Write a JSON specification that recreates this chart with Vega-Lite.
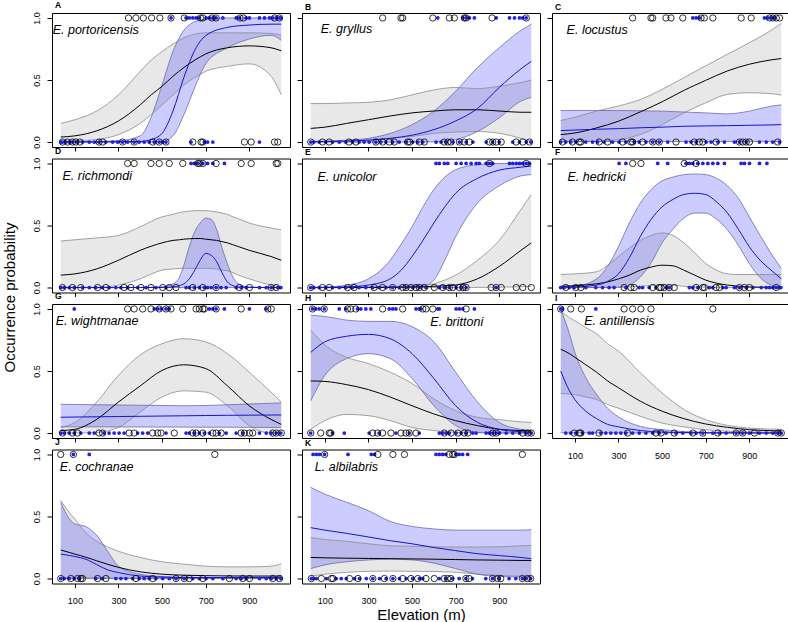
{
"$schema": "https://vega.github.io/schema/vega-lite/v6.json",
"background": "white",
"padding": {"left": 2, "top": 0, "right": 0, "bottom": 0},
"config": {
 "font": "Liberation Sans",
 "view": {"stroke": "#000000", "strokeWidth": 1},
 "axis": {"grid": false, "domain": false, "ticks": true, "tickColor": "#000000", "tickWidth": 1, "labelFontSize": 9, "labelColor": "#000000", "labelFont": "Liberation Sans", "titleFont": "Liberation Sans", "titleColor": "#000000", "titleFontWeight": "normal", "titleFontSize": 15, "labelOverlap": false, "labelFlush": false},
 "axisX": {"tickSize": 4, "labelPadding": 9},
 "axisY": {"tickSize": 5, "labelAngle": 270, "labelAlign": "center", "labelBaseline": "bottom", "labelPadding": 6},
 "title": {"anchor": "start", "fontSize": 8.5, "fontWeight": "bold", "offset": 2, "dx": 3, "baseline": "alphabetic", "frame": "group", "font": "Liberation Sans", "color": "#000000"}
},
"datasets": {
 "curves": [
  {"p":"A","x":35,"black":0.04,"greyHi":0.15,"greyLo":0.005,"blue":0.001,"blueHi":0.001,"blueLo":0},
  {"p":"A","x":100,"black":0.05,"greyHi":0.18,"greyLo":0.01,"blue":0.001,"blueHi":0.002,"blueLo":0},
  {"p":"A","x":200,"black":0.09,"greyHi":0.25,"greyLo":0.02,"blue":0.001,"blueHi":0.005,"blueLo":0},
  {"p":"A","x":300,"black":0.17,"greyHi":0.38,"greyLo":0.06,"blue":0.002,"blueHi":0.01,"blueLo":0},
  {"p":"A","x":400,"black":0.30,"greyHi":0.57,"greyLo":0.15,"blue":0.005,"blueHi":0.05,"blueLo":0},
  {"p":"A","x":450,"black":0.38,"greyHi":0.66,"greyLo":0.22,"blue":0.02,"blueHi":0.2,"blueLo":0},
  {"p":"A","x":500,"black":0.45,"greyHi":0.73,"greyLo":0.30,"blue":0.07,"blueHi":0.46,"blueLo":0.002},
  {"p":"A","x":550,"black":0.53,"greyHi":0.79,"greyLo":0.38,"blue":0.25,"blueHi":0.73,"blueLo":0.05},
  {"p":"A","x":600,"black":0.60,"greyHi":0.84,"greyLo":0.46,"blue":0.52,"blueHi":0.9,"blueLo":0.22},
  {"p":"A","x":650,"black":0.66,"greyHi":0.87,"greyLo":0.52,"blue":0.74,"blueHi":0.97,"blueLo":0.44},
  {"p":"A","x":700,"black":0.71,"greyHi":0.88,"greyLo":0.57,"blue":0.857,"blueHi":0.99,"blueLo":0.63},
  {"p":"A","x":800,"black":0.76,"greyHi":0.88,"greyLo":0.61,"blue":0.924,"blueHi":1.0,"blueLo":0.76},
  {"p":"A","x":900,"black":0.775,"greyHi":0.88,"greyLo":0.63,"blue":0.943,"blueHi":1.0,"blueLo":0.83},
  {"p":"A","x":1000,"black":0.76,"greyHi":0.875,"greyLo":0.53,"blue":0.95,"blueHi":1.0,"blueLo":0.86},
  {"p":"A","x":1047,"black":0.735,"greyHi":0.86,"greyLo":0.38,"blue":0.95,"blueHi":1.0,"blueLo":0.82},

  {"p":"B","x":35,"black":0.11,"greyHi":0.31,"greyLo":0.005,"blue":0.002,"blueHi":0.003,"blueLo":0},
  {"p":"B","x":100,"black":0.12,"greyHi":0.31,"greyLo":0.007,"blue":0.003,"blueHi":0.006,"blueLo":0},
  {"p":"B","x":200,"black":0.15,"greyHi":0.315,"greyLo":0.01,"blue":0.007,"blueHi":0.015,"blueLo":0},
  {"p":"B","x":300,"black":0.18,"greyHi":0.32,"greyLo":0.02,"blue":0.015,"blueHi":0.03,"blueLo":0},
  {"p":"B","x":400,"black":0.21,"greyHi":0.34,"greyLo":0.03,"blue":0.03,"blueHi":0.07,"blueLo":0},
  {"p":"B","x":500,"black":0.235,"greyHi":0.38,"greyLo":0.045,"blue":0.055,"blueHi":0.14,"blueLo":0},
  {"p":"B","x":600,"black":0.25,"greyHi":0.42,"greyLo":0.07,"blue":0.10,"blueHi":0.25,"blueLo":0.002},
  {"p":"B","x":700,"black":0.26,"greyHi":0.44,"greyLo":0.08,"blue":0.17,"blueHi":0.41,"blueLo":0.02},
  {"p":"B","x":800,"black":0.26,"greyHi":0.43,"greyLo":0.085,"blue":0.27,"blueHi":0.6,"blueLo":0.085},
  {"p":"B","x":900,"black":0.25,"greyHi":0.45,"greyLo":0.07,"blue":0.44,"blueHi":0.76,"blueLo":0.195},
  {"p":"B","x":1000,"black":0.24,"greyHi":0.48,"greyLo":0.03,"blue":0.59,"blueHi":0.9,"blueLo":0.33},
  {"p":"B","x":1047,"black":0.24,"greyHi":0.50,"greyLo":0.005,"blue":0.65,"blueHi":0.95,"blueLo":0.36},

  {"p":"C","x":35,"black":0.06,"greyHi":0.173,"greyLo":0.001,"blue":0.092,"blueHi":0.254,"blueLo":0.005},
  {"p":"C","x":100,"black":0.073,"greyHi":0.2,"greyLo":0.002,"blue":0.097,"blueHi":0.254,"blueLo":0.005},
  {"p":"C","x":200,"black":0.114,"greyHi":0.25,"greyLo":0.005,"blue":0.103,"blueHi":0.254,"blueLo":0.005},
  {"p":"C","x":300,"black":0.168,"greyHi":0.29,"greyLo":0.02,"blue":0.108,"blueHi":0.254,"blueLo":0.005},
  {"p":"C","x":400,"black":0.243,"greyHi":0.343,"greyLo":0.06,"blue":0.115,"blueHi":0.252,"blueLo":0.005},
  {"p":"C","x":500,"black":0.324,"greyHi":0.424,"greyLo":0.14,"blue":0.12,"blueHi":0.249,"blueLo":0.005},
  {"p":"C","x":600,"black":0.416,"greyHi":0.519,"greyLo":0.235,"blue":0.127,"blueHi":0.242,"blueLo":0.005},
  {"p":"C","x":700,"black":0.497,"greyHi":0.614,"greyLo":0.316,"blue":0.13,"blueHi":0.235,"blueLo":0.005},
  {"p":"C","x":800,"black":0.573,"greyHi":0.708,"greyLo":0.384,"blue":0.132,"blueHi":0.227,"blueLo":0.005},
  {"p":"C","x":900,"black":0.627,"greyHi":0.8,"greyLo":0.397,"blue":0.135,"blueHi":0.249,"blueLo":0.005},
  {"p":"C","x":1000,"black":0.662,"greyHi":0.9,"greyLo":0.39,"blue":0.138,"blueHi":0.289,"blueLo":0.005},
  {"p":"C","x":1047,"black":0.673,"greyHi":0.957,"greyLo":0.378,"blue":0.14,"blueHi":0.30,"blueLo":0.005},

  {"p":"D","x":35,"black":0.10,"greyHi":0.375,"greyLo":0,"blue":0,"blueHi":0,"blueLo":0},
  {"p":"D","x":100,"black":0.11,"greyHi":0.385,"greyLo":0,"blue":0,"blueHi":0,"blueLo":0},
  {"p":"D","x":200,"black":0.15,"greyHi":0.40,"greyLo":0,"blue":0,"blueHi":0,"blueLo":0},
  {"p":"D","x":300,"black":0.22,"greyHi":0.42,"greyLo":0.02,"blue":0,"blueHi":0,"blueLo":0},
  {"p":"D","x":400,"black":0.30,"greyHi":0.49,"greyLo":0.07,"blue":0,"blueHi":0.001,"blueLo":0},
  {"p":"D","x":500,"black":0.36,"greyHi":0.57,"greyLo":0.14,"blue":0.001,"blueHi":0.005,"blueLo":0},
  {"p":"D","x":550,"black":0.38,"greyHi":0.59,"greyLo":0.15,"blue":0.005,"blueHi":0.03,"blueLo":0},
  {"p":"D","x":580,"black":0.385,"greyHi":0.605,"greyLo":0.153,"blue":0.015,"blueHi":0.085,"blueLo":0},
  {"p":"D","x":600,"black":0.39,"greyHi":0.61,"greyLo":0.155,"blue":0.03,"blueHi":0.18,"blueLo":0},
  {"p":"D","x":625,"black":0.393,"greyHi":0.615,"greyLo":0.155,"blue":0.07,"blueHi":0.33,"blueLo":0},
  {"p":"D","x":650,"black":0.395,"greyHi":0.62,"greyLo":0.155,"blue":0.14,"blueHi":0.45,"blueLo":0},
  {"p":"D","x":675,"black":0.395,"greyHi":0.62,"greyLo":0.155,"blue":0.22,"blueHi":0.52,"blueLo":0},
  {"p":"D","x":700,"black":0.39,"greyHi":0.62,"greyLo":0.155,"blue":0.275,"blueHi":0.56,"blueLo":0},
  {"p":"D","x":725,"black":0.385,"greyHi":0.615,"greyLo":0.153,"blue":0.26,"blueHi":0.55,"blueLo":0},
  {"p":"D","x":750,"black":0.38,"greyHi":0.61,"greyLo":0.15,"blue":0.21,"blueHi":0.47,"blueLo":0},
  {"p":"D","x":775,"black":0.37,"greyHi":0.60,"greyLo":0.14,"blue":0.12,"blueHi":0.32,"blueLo":0},
  {"p":"D","x":800,"black":0.36,"greyHi":0.59,"greyLo":0.135,"blue":0.045,"blueHi":0.19,"blueLo":0},
  {"p":"D","x":825,"black":0.345,"greyHi":0.57,"greyLo":0.12,"blue":0.015,"blueHi":0.085,"blueLo":0},
  {"p":"D","x":850,"black":0.33,"greyHi":0.555,"greyLo":0.10,"blue":0.004,"blueHi":0.03,"blueLo":0},
  {"p":"D","x":900,"black":0.30,"greyHi":0.52,"greyLo":0.07,"blue":0.001,"blueHi":0.005,"blueLo":0},
  {"p":"D","x":1000,"black":0.25,"greyHi":0.48,"greyLo":0.02,"blue":0,"blueHi":0,"blueLo":0},
  {"p":"D","x":1047,"black":0.22,"greyHi":0.465,"greyLo":0.005,"blue":0,"blueHi":0,"blueLo":0},

  {"p":"E","x":35,"black":0,"greyHi":0,"greyLo":0,"blue":0,"blueHi":0.001,"blueLo":0},
  {"p":"E","x":100,"black":0,"greyHi":0,"greyLo":0,"blue":0.001,"blueHi":0.003,"blueLo":0},
  {"p":"E","x":200,"black":0,"greyHi":0.001,"greyLo":0,"blue":0.005,"blueHi":0.02,"blueLo":0},
  {"p":"E","x":300,"black":0.001,"greyHi":0.003,"greyLo":0,"blue":0.02,"blueHi":0.07,"blueLo":0},
  {"p":"E","x":400,"black":0.002,"greyHi":0.007,"greyLo":0,"blue":0.07,"blueHi":0.22,"blueLo":0},
  {"p":"E","x":450,"black":0.003,"greyHi":0.01,"greyLo":0,"blue":0.14,"blueHi":0.35,"blueLo":0.001},
  {"p":"E","x":500,"black":0.005,"greyHi":0.015,"greyLo":0,"blue":0.25,"blueHi":0.49,"blueLo":0.003},
  {"p":"E","x":550,"black":0.007,"greyHi":0.02,"greyLo":0,"blue":0.38,"blueHi":0.65,"blueLo":0.01},
  {"p":"E","x":600,"black":0.01,"greyHi":0.03,"greyLo":0,"blue":0.52,"blueHi":0.79,"blueLo":0.06},
  {"p":"E","x":650,"black":0.014,"greyHi":0.06,"greyLo":0,"blue":0.65,"blueHi":0.89,"blueLo":0.22},
  {"p":"E","x":700,"black":0.02,"greyHi":0.10,"greyLo":0,"blue":0.76,"blueHi":0.95,"blueLo":0.41},
  {"p":"E","x":800,"black":0.07,"greyHi":0.22,"greyLo":0.001,"blue":0.88,"blueHi":0.99,"blueLo":0.68},
  {"p":"E","x":900,"black":0.17,"greyHi":0.38,"greyLo":0.003,"blue":0.946,"blueHi":1.0,"blueLo":0.82},
  {"p":"E","x":1000,"black":0.30,"greyHi":0.63,"greyLo":0.006,"blue":0.97,"blueHi":1.0,"blueLo":0.9},
  {"p":"E","x":1047,"black":0.36,"greyHi":0.75,"greyLo":0.01,"blue":0.98,"blueHi":1.0,"blueLo":0.91},

  {"p":"F","x":35,"black":0.01,"greyHi":0.105,"greyLo":0,"blue":0.002,"blueHi":0.005,"blueLo":0},
  {"p":"F","x":100,"black":0.015,"greyHi":0.11,"greyLo":0,"blue":0.005,"blueHi":0.01,"blueLo":0},
  {"p":"F","x":200,"black":0.03,"greyHi":0.127,"greyLo":0,"blue":0.02,"blueHi":0.07,"blueLo":0},
  {"p":"F","x":250,"black":0.045,"greyHi":0.18,"greyLo":0,"blue":0.05,"blueHi":0.17,"blueLo":0},
  {"p":"F","x":300,"black":0.07,"greyHi":0.25,"greyLo":0.002,"blue":0.11,"blueHi":0.33,"blueLo":0.002},
  {"p":"F","x":350,"black":0.10,"greyHi":0.32,"greyLo":0.005,"blue":0.24,"blueHi":0.52,"blueLo":0.02},
  {"p":"F","x":400,"black":0.14,"greyHi":0.38,"greyLo":0.01,"blue":0.41,"blueHi":0.68,"blueLo":0.085},
  {"p":"F","x":450,"black":0.165,"greyHi":0.42,"greyLo":0.018,"blue":0.55,"blueHi":0.79,"blueLo":0.2},
  {"p":"F","x":500,"black":0.18,"greyHi":0.44,"greyLo":0.02,"blue":0.65,"blueHi":0.86,"blueLo":0.36},
  {"p":"F","x":550,"black":0.175,"greyHi":0.42,"greyLo":0.018,"blue":0.71,"blueHi":0.89,"blueLo":0.47},
  {"p":"F","x":600,"black":0.14,"greyHi":0.36,"greyLo":0.01,"blue":0.75,"blueHi":0.91,"blueLo":0.56},
  {"p":"F","x":650,"black":0.10,"greyHi":0.28,"greyLo":0.005,"blue":0.76,"blueHi":0.915,"blueLo":0.6},
  {"p":"F","x":700,"black":0.06,"greyHi":0.195,"greyLo":0.002,"blue":0.75,"blueHi":0.91,"blueLo":0.6},
  {"p":"F","x":750,"black":0.035,"greyHi":0.14,"greyLo":0,"blue":0.69,"blueHi":0.88,"blueLo":0.55},
  {"p":"F","x":800,"black":0.02,"greyHi":0.11,"greyLo":0,"blue":0.6,"blueHi":0.82,"blueLo":0.465},
  {"p":"F","x":850,"black":0.01,"greyHi":0.105,"greyLo":0,"blue":0.47,"blueHi":0.72,"blueLo":0.34},
  {"p":"F","x":900,"black":0.005,"greyHi":0.105,"greyLo":0,"blue":0.33,"blueHi":0.57,"blueLo":0.195},
  {"p":"F","x":950,"black":0.003,"greyHi":0.105,"greyLo":0,"blue":0.22,"blueHi":0.42,"blueLo":0.08},
  {"p":"F","x":1000,"black":0.002,"greyHi":0.105,"greyLo":0,"blue":0.14,"blueHi":0.275,"blueLo":0.02},
  {"p":"F","x":1047,"black":0.002,"greyHi":0.105,"greyLo":0,"blue":0.07,"blueHi":0.155,"blueLo":0.005},

  {"p":"G","x":35,"black":0.02,"greyHi":0.045,"greyLo":0,"blue":0.127,"blueHi":0.232,"blueLo":0.05},
  {"p":"G","x":100,"black":0.03,"greyHi":0.085,"greyLo":0,"blue":0.129,"blueHi":0.23,"blueLo":0.05},
  {"p":"G","x":200,"black":0.11,"greyHi":0.25,"greyLo":0.005,"blue":0.131,"blueHi":0.228,"blueLo":0.05},
  {"p":"G","x":300,"black":0.25,"greyHi":0.465,"greyLo":0.045,"blue":0.133,"blueHi":0.226,"blueLo":0.049},
  {"p":"G","x":400,"black":0.38,"greyHi":0.63,"greyLo":0.17,"blue":0.135,"blueHi":0.224,"blueLo":0.049},
  {"p":"G","x":500,"black":0.505,"greyHi":0.72,"greyLo":0.29,"blue":0.137,"blueHi":0.222,"blueLo":0.048},
  {"p":"G","x":600,"black":0.55,"greyHi":0.76,"greyLo":0.34,"blue":0.139,"blueHi":0.22,"blueLo":0.048},
  {"p":"G","x":700,"black":0.52,"greyHi":0.735,"greyLo":0.33,"blue":0.141,"blueHi":0.222,"blueLo":0.047},
  {"p":"G","x":800,"black":0.38,"greyHi":0.64,"greyLo":0.22,"blue":0.143,"blueHi":0.228,"blueLo":0.047},
  {"p":"G","x":900,"black":0.22,"greyHi":0.49,"greyLo":0.06,"blue":0.144,"blueHi":0.234,"blueLo":0.046},
  {"p":"G","x":1000,"black":0.11,"greyHi":0.33,"greyLo":0,"blue":0.145,"blueHi":0.24,"blueLo":0.045},
  {"p":"G","x":1047,"black":0.07,"greyHi":0.25,"greyLo":0,"blue":0.146,"blueHi":0.243,"blueLo":0.045},

  {"p":"H","x":35,"black":0.42,"greyHi":0.83,"greyLo":0.03,"blue":0.65,"blueHi":0.95,"blueLo":0.26},
  {"p":"H","x":100,"black":0.416,"greyHi":0.71,"greyLo":0.10,"blue":0.735,"blueHi":0.94,"blueLo":0.465},
  {"p":"H","x":200,"black":0.39,"greyHi":0.61,"greyLo":0.15,"blue":0.78,"blueHi":0.91,"blueLo":0.6},
  {"p":"H","x":300,"black":0.35,"greyHi":0.56,"greyLo":0.14,"blue":0.795,"blueHi":0.90,"blueLo":0.64},
  {"p":"H","x":400,"black":0.29,"greyHi":0.49,"greyLo":0.10,"blue":0.76,"blueHi":0.90,"blueLo":0.6},
  {"p":"H","x":500,"black":0.22,"greyHi":0.40,"greyLo":0.045,"blue":0.64,"blueHi":0.857,"blueLo":0.44},
  {"p":"H","x":600,"black":0.154,"greyHi":0.275,"greyLo":0.02,"blue":0.44,"blueHi":0.735,"blueLo":0.22},
  {"p":"H","x":700,"black":0.10,"greyHi":0.18,"greyLo":0.005,"blue":0.22,"blueHi":0.49,"blueLo":0.06},
  {"p":"H","x":800,"black":0.06,"greyHi":0.127,"greyLo":0.002,"blue":0.086,"blueHi":0.25,"blueLo":0.005},
  {"p":"H","x":900,"black":0.03,"greyHi":0.108,"greyLo":0.001,"blue":0.03,"blueHi":0.086,"blueLo":0},
  {"p":"H","x":1000,"black":0.02,"greyHi":0.09,"greyLo":0.001,"blue":0.01,"blueHi":0.03,"blueLo":0},
  {"p":"H","x":1047,"black":0.015,"greyHi":0.086,"greyLo":0.001,"blue":0.005,"blueHi":0.02,"blueLo":0},

  {"p":"I","x":35,"black":0.675,"greyHi":0.986,"greyLo":0.32,"blue":0.5,"blueHi":1.0,"blueLo":0.002},
  {"p":"I","x":75,"black":0.64,"greyHi":0.93,"greyLo":0.315,"blue":0.34,"blueHi":0.8,"blueLo":0.002},
  {"p":"I","x":100,"black":0.61,"greyHi":0.905,"greyLo":0.31,"blue":0.27,"blueHi":0.65,"blueLo":0.002},
  {"p":"I","x":150,"black":0.55,"greyHi":0.85,"greyLo":0.29,"blue":0.176,"blueHi":0.446,"blueLo":0.002},
  {"p":"I","x":200,"black":0.49,"greyHi":0.8,"greyLo":0.27,"blue":0.116,"blueHi":0.31,"blueLo":0.002},
  {"p":"I","x":250,"black":0.42,"greyHi":0.72,"greyLo":0.23,"blue":0.07,"blueHi":0.2,"blueLo":0.002},
  {"p":"I","x":300,"black":0.365,"greyHi":0.66,"greyLo":0.2,"blue":0.05,"blueHi":0.13,"blueLo":0.002},
  {"p":"I","x":400,"black":0.257,"greyHi":0.486,"greyLo":0.135,"blue":0.02,"blueHi":0.054,"blueLo":0.002},
  {"p":"I","x":500,"black":0.176,"greyHi":0.324,"greyLo":0.08,"blue":0.008,"blueHi":0.027,"blueLo":0.002},
  {"p":"I","x":600,"black":0.116,"greyHi":0.19,"greyLo":0.05,"blue":0.004,"blueHi":0.012,"blueLo":0.002},
  {"p":"I","x":700,"black":0.073,"greyHi":0.108,"greyLo":0.027,"blue":0.002,"blueHi":0.006,"blueLo":0.001},
  {"p":"I","x":800,"black":0.046,"greyHi":0.062,"greyLo":0.014,"blue":0.001,"blueHi":0.004,"blueLo":0.001},
  {"p":"I","x":900,"black":0.027,"greyHi":0.04,"greyLo":0.008,"blue":0.001,"blueHi":0.003,"blueLo":0},
  {"p":"I","x":1000,"black":0.019,"greyHi":0.032,"greyLo":0.006,"blue":0,"blueHi":0.002,"blueLo":0},
  {"p":"I","x":1047,"black":0.016,"greyHi":0.03,"greyLo":0.005,"blue":0,"blueHi":0.002,"blueLo":0},

  {"p":"J","x":35,"black":0.23,"greyHi":0.63,"greyLo":0.005,"blue":0.197,"blueHi":0.615,"blueLo":0},
  {"p":"J","x":75,"black":0.21,"greyHi":0.53,"greyLo":0.005,"blue":0.186,"blueHi":0.48,"blueLo":0},
  {"p":"J","x":100,"black":0.197,"greyHi":0.48,"greyLo":0.005,"blue":0.178,"blueHi":0.44,"blueLo":0},
  {"p":"J","x":125,"black":0.185,"greyHi":0.42,"greyLo":0.005,"blue":0.168,"blueHi":0.43,"blueLo":0},
  {"p":"J","x":150,"black":0.172,"greyHi":0.37,"greyLo":0.005,"blue":0.156,"blueHi":0.42,"blueLo":0},
  {"p":"J","x":175,"black":0.158,"greyHi":0.33,"greyLo":0.005,"blue":0.135,"blueHi":0.39,"blueLo":0},
  {"p":"J","x":200,"black":0.143,"greyHi":0.30,"greyLo":0.005,"blue":0.113,"blueHi":0.35,"blueLo":0},
  {"p":"J","x":250,"black":0.115,"greyHi":0.255,"greyLo":0.005,"blue":0.07,"blueHi":0.22,"blueLo":0},
  {"p":"J","x":300,"black":0.09,"greyHi":0.22,"greyLo":0.005,"blue":0.048,"blueHi":0.1,"blueLo":0},
  {"p":"J","x":400,"black":0.054,"greyHi":0.17,"greyLo":0.005,"blue":0.02,"blueHi":0.035,"blueLo":0},
  {"p":"J","x":500,"black":0.035,"greyHi":0.135,"greyLo":0.005,"blue":0.012,"blueHi":0.016,"blueLo":0},
  {"p":"J","x":600,"black":0.027,"greyHi":0.116,"greyLo":0.005,"blue":0.008,"blueHi":0.01,"blueLo":0},
  {"p":"J","x":700,"black":0.023,"greyHi":0.10,"greyLo":0.005,"blue":0.008,"blueHi":0.008,"blueLo":0},
  {"p":"J","x":800,"black":0.021,"greyHi":0.094,"greyLo":0.005,"blue":0.008,"blueHi":0.008,"blueLo":0},
  {"p":"J","x":900,"black":0.02,"greyHi":0.094,"greyLo":0.005,"blue":0.008,"blueHi":0.008,"blueLo":0},
  {"p":"J","x":1000,"black":0.02,"greyHi":0.10,"greyLo":0.005,"blue":0.008,"blueHi":0.008,"blueLo":0},
  {"p":"J","x":1047,"black":0.02,"greyHi":0.12,"greyLo":0.005,"blue":0.008,"blueHi":0.008,"blueLo":0},

  {"p":"K","x":35,"black":0.17,"greyHi":0.33,"greyLo":0.02,"blue":0.41,"blueHi":0.735,"blueLo":0.08},
  {"p":"K","x":100,"black":0.167,"greyHi":0.315,"greyLo":0.035,"blue":0.39,"blueHi":0.68,"blueLo":0.11},
  {"p":"K","x":200,"black":0.164,"greyHi":0.30,"greyLo":0.05,"blue":0.364,"blueHi":0.615,"blueLo":0.135},
  {"p":"K","x":300,"black":0.162,"greyHi":0.28,"greyLo":0.058,"blue":0.335,"blueHi":0.547,"blueLo":0.15},
  {"p":"K","x":400,"black":0.16,"greyHi":0.264,"greyLo":0.06,"blue":0.305,"blueHi":0.46,"blueLo":0.156},
  {"p":"K","x":500,"black":0.158,"greyHi":0.26,"greyLo":0.058,"blue":0.28,"blueHi":0.42,"blueLo":0.15},
  {"p":"K","x":600,"black":0.156,"greyHi":0.256,"greyLo":0.057,"blue":0.25,"blueHi":0.40,"blueLo":0.124},
  {"p":"K","x":700,"black":0.153,"greyHi":0.254,"greyLo":0.05,"blue":0.225,"blueHi":0.39,"blueLo":0.08},
  {"p":"K","x":800,"black":0.15,"greyHi":0.254,"greyLo":0.035,"blue":0.20,"blueHi":0.39,"blueLo":0.035},
  {"p":"K","x":900,"black":0.148,"greyHi":0.256,"greyLo":0.025,"blue":0.185,"blueHi":0.39,"blueLo":0.016},
  {"p":"K","x":1000,"black":0.146,"greyHi":0.264,"greyLo":0.018,"blue":0.17,"blueHi":0.39,"blueLo":0.012},
  {"p":"K","x":1047,"black":0.146,"greyHi":0.267,"greyLo":0.016,"blue":0.16,"blueHi":0.394,"blueLo":0.01}
 ],
 "pts": [
  {"p":"A","s":"k","y":1,"x":346},{"p":"A","s":"k","y":1,"x":380},{"p":"A","s":"k","y":1,"x":414},{"p":"A","s":"k","y":1,"x":452},{"p":"A","s":"k","y":1,"x":490},{"p":"A","s":"k","y":1,"x":541},{"p":"A","s":"k","y":1,"x":602},{"p":"A","s":"k","y":1,"x":676},{"p":"A","s":"k","y":1,"x":687},{"p":"A","s":"k","y":1,"x":729},{"p":"A","s":"k","y":1,"x":748},{"p":"A","s":"k","y":1,"x":858},{"p":"A","s":"k","y":1,"x":873},{"p":"A","s":"k","y":1,"x":1016},{"p":"A","s":"k","y":1,"x":1039},
  {"p":"A","s":"b","y":1,"x":541},{"p":"A","s":"b","y":1,"x":610},{"p":"A","s":"b","y":1,"x":625},{"p":"A","s":"b","y":1,"x":641},{"p":"A","s":"b","y":1,"x":656},{"p":"A","s":"b","y":1,"x":671},{"p":"A","s":"b","y":1,"x":702},{"p":"A","s":"b","y":1,"x":717},{"p":"A","s":"b","y":1,"x":733},{"p":"A","s":"b","y":1,"x":748},{"p":"A","s":"b","y":1,"x":779},{"p":"A","s":"b","y":1,"x":840},{"p":"A","s":"b","y":1,"x":855},{"p":"A","s":"b","y":1,"x":886},{"p":"A","s":"b","y":1,"x":901},{"p":"A","s":"b","y":1,"x":947},{"p":"A","s":"b","y":1,"x":970},{"p":"A","s":"b","y":1,"x":993},{"p":"A","s":"b","y":1,"x":1008},{"p":"A","s":"b","y":1,"x":1024},{"p":"A","s":"b","y":1,"x":1039},{"p":"A","s":"b","y":1,"x":1045},
  {"p":"A","s":"k","y":0,"x":43},{"p":"A","s":"k","y":0,"x":66},{"p":"A","s":"k","y":0,"x":89},{"p":"A","s":"k","y":0,"x":104},{"p":"A","s":"k","y":0,"x":123},{"p":"A","s":"k","y":0,"x":211},{"p":"A","s":"k","y":0,"x":227},{"p":"A","s":"k","y":0,"x":319},{"p":"A","s":"k","y":0,"x":372},{"p":"A","s":"k","y":0,"x":457},{"p":"A","s":"k","y":0,"x":487},{"p":"A","s":"k","y":0,"x":518},{"p":"A","s":"k","y":0,"x":641},{"p":"A","s":"k","y":0,"x":679},{"p":"A","s":"k","y":0,"x":687},{"p":"A","s":"k","y":0,"x":878},{"p":"A","s":"k","y":0,"x":909},{"p":"A","s":"k","y":0,"x":1016},{"p":"A","s":"k","y":0,"x":1031},
  {"p":"A","s":"b","y":0,"x":36},{"p":"A","s":"b","y":0,"x":43},{"p":"A","s":"b","y":0,"x":58},{"p":"A","s":"b","y":0,"x":74},{"p":"A","s":"b","y":0,"x":89},{"p":"A","s":"b","y":0,"x":112},{"p":"A","s":"b","y":0,"x":135},{"p":"A","s":"b","y":0,"x":166},{"p":"A","s":"b","y":0,"x":189},{"p":"A","s":"b","y":0,"x":211},{"p":"A","s":"b","y":0,"x":242},{"p":"A","s":"b","y":0,"x":273},{"p":"A","s":"b","y":0,"x":296},{"p":"A","s":"b","y":0,"x":319},{"p":"A","s":"b","y":0,"x":342},{"p":"A","s":"b","y":0,"x":372},{"p":"A","s":"b","y":0,"x":395},{"p":"A","s":"b","y":0,"x":418},{"p":"A","s":"b","y":0,"x":441},{"p":"A","s":"b","y":0,"x":464},{"p":"A","s":"b","y":0,"x":487},{"p":"A","s":"b","y":0,"x":503},{"p":"A","s":"b","y":0,"x":518},{"p":"A","s":"b","y":0,"x":633},{"p":"A","s":"b","y":0,"x":694},{"p":"A","s":"b","y":0,"x":709},{"p":"A","s":"b","y":0,"x":733},{"p":"A","s":"b","y":0,"x":947},

  {"p":"B","s":"k","y":1,"x":365},{"p":"B","s":"k","y":1,"x":449},{"p":"B","s":"k","y":1,"x":457},{"p":"B","s":"k","y":1,"x":595},{"p":"B","s":"k","y":1,"x":671},{"p":"B","s":"k","y":1,"x":694},{"p":"B","s":"k","y":1,"x":740},{"p":"B","s":"k","y":1,"x":748},{"p":"B","s":"k","y":1,"x":867},{"p":"B","s":"k","y":1,"x":1024},
  {"p":"B","s":"b","y":1,"x":618},{"p":"B","s":"b","y":1,"x":733},{"p":"B","s":"b","y":1,"x":748},{"p":"B","s":"b","y":1,"x":763},{"p":"B","s":"b","y":1,"x":786},{"p":"B","s":"b","y":1,"x":886},{"p":"B","s":"b","y":1,"x":947},{"p":"B","s":"b","y":1,"x":970},{"p":"B","s":"b","y":1,"x":993},{"p":"B","s":"b","y":1,"x":1008},{"p":"B","s":"b","y":1,"x":1024},
  {"p":"B","s":"k","y":0,"x":35},{"p":"B","s":"k","y":0,"x":89},{"p":"B","s":"k","y":0,"x":120},{"p":"B","s":"k","y":0,"x":211},{"p":"B","s":"k","y":0,"x":242},{"p":"B","s":"k","y":0,"x":334},{"p":"B","s":"k","y":0,"x":365},{"p":"B","s":"k","y":0,"x":395},{"p":"B","s":"k","y":0,"x":418},{"p":"B","s":"k","y":0,"x":480},{"p":"B","s":"k","y":0,"x":490},{"p":"B","s":"k","y":0,"x":533},{"p":"B","s":"k","y":0,"x":556},{"p":"B","s":"k","y":0,"x":648},{"p":"B","s":"k","y":0,"x":664},{"p":"B","s":"k","y":0,"x":679},{"p":"B","s":"k","y":0,"x":717},{"p":"B","s":"k","y":0,"x":740},{"p":"B","s":"k","y":0,"x":763},{"p":"B","s":"k","y":0,"x":855},{"p":"B","s":"k","y":0,"x":870},{"p":"B","s":"k","y":0,"x":886},{"p":"B","s":"k","y":0,"x":909},{"p":"B","s":"k","y":0,"x":978},{"p":"B","s":"k","y":0,"x":1008},{"p":"B","s":"k","y":0,"x":1039},
  {"p":"B","s":"b","y":0,"x":35},{"p":"B","s":"b","y":0,"x":49},{"p":"B","s":"b","y":0,"x":74},{"p":"B","s":"b","y":0,"x":104},{"p":"B","s":"b","y":0,"x":135},{"p":"B","s":"b","y":0,"x":166},{"p":"B","s":"b","y":0,"x":196},{"p":"B","s":"b","y":0,"x":227},{"p":"B","s":"b","y":0,"x":257},{"p":"B","s":"b","y":0,"x":280},{"p":"B","s":"b","y":0,"x":303},{"p":"B","s":"b","y":0,"x":334},{"p":"B","s":"b","y":0,"x":357},{"p":"B","s":"b","y":0,"x":380},{"p":"B","s":"b","y":0,"x":411},{"p":"B","s":"b","y":0,"x":441},{"p":"B","s":"b","y":0,"x":472},{"p":"B","s":"b","y":0,"x":503},{"p":"B","s":"b","y":0,"x":526},{"p":"B","s":"b","y":0,"x":549},{"p":"B","s":"b","y":0,"x":610},{"p":"B","s":"b","y":0,"x":633},{"p":"B","s":"b","y":0,"x":656},{"p":"B","s":"b","y":0,"x":687},{"p":"B","s":"b","y":0,"x":717},{"p":"B","s":"b","y":0,"x":748},{"p":"B","s":"b","y":0,"x":779},{"p":"B","s":"b","y":0,"x":840},{"p":"B","s":"b","y":0,"x":870},{"p":"B","s":"b","y":0,"x":901},{"p":"B","s":"b","y":0,"x":962},{"p":"B","s":"b","y":0,"x":993},{"p":"B","s":"b","y":0,"x":1024},{"p":"B","s":"b","y":0,"x":1045},

  {"p":"C","s":"k","y":1,"x":365},{"p":"C","s":"k","y":1,"x":449},{"p":"C","s":"k","y":1,"x":457},{"p":"C","s":"k","y":1,"x":518},{"p":"C","s":"k","y":1,"x":541},{"p":"C","s":"k","y":1,"x":595},{"p":"C","s":"k","y":1,"x":679},{"p":"C","s":"k","y":1,"x":694},{"p":"C","s":"k","y":1,"x":733},{"p":"C","s":"k","y":1,"x":863},{"p":"C","s":"k","y":1,"x":909},{"p":"C","s":"k","y":1,"x":993},{"p":"C","s":"k","y":1,"x":1008},{"p":"C","s":"k","y":1,"x":1024},{"p":"C","s":"k","y":1,"x":1039},
  {"p":"C","s":"b","y":1,"x":641},{"p":"C","s":"b","y":1,"x":656},{"p":"C","s":"b","y":1,"x":671},{"p":"C","s":"b","y":1,"x":970},{"p":"C","s":"b","y":1,"x":985},{"p":"C","s":"b","y":1,"x":1001},{"p":"C","s":"b","y":1,"x":1016},
  {"p":"C","s":"k","y":0,"x":43},{"p":"C","s":"k","y":0,"x":89},{"p":"C","s":"k","y":0,"x":120},{"p":"C","s":"k","y":0,"x":127},{"p":"C","s":"k","y":0,"x":211},{"p":"C","s":"k","y":0,"x":250},{"p":"C","s":"k","y":0,"x":319},{"p":"C","s":"k","y":0,"x":357},{"p":"C","s":"k","y":0,"x":365},{"p":"C","s":"k","y":0,"x":411},{"p":"C","s":"k","y":0,"x":457},{"p":"C","s":"k","y":0,"x":487},{"p":"C","s":"k","y":0,"x":564},{"p":"C","s":"k","y":0,"x":648},{"p":"C","s":"k","y":0,"x":671},{"p":"C","s":"k","y":0,"x":687},{"p":"C","s":"k","y":0,"x":748},{"p":"C","s":"k","y":0,"x":855},{"p":"C","s":"k","y":0,"x":870},{"p":"C","s":"k","y":0,"x":886},{"p":"C","s":"k","y":0,"x":901},{"p":"C","s":"k","y":0,"x":1031},
  {"p":"C","s":"b","y":0,"x":35},{"p":"C","s":"b","y":0,"x":58},{"p":"C","s":"b","y":0,"x":81},{"p":"C","s":"b","y":0,"x":104},{"p":"C","s":"b","y":0,"x":150},{"p":"C","s":"b","y":0,"x":181},{"p":"C","s":"b","y":0,"x":204},{"p":"C","s":"b","y":0,"x":234},{"p":"C","s":"b","y":0,"x":273},{"p":"C","s":"b","y":0,"x":303},{"p":"C","s":"b","y":0,"x":334},{"p":"C","s":"b","y":0,"x":372},{"p":"C","s":"b","y":0,"x":395},{"p":"C","s":"b","y":0,"x":426},{"p":"C","s":"b","y":0,"x":457},{"p":"C","s":"b","y":0,"x":487},{"p":"C","s":"b","y":0,"x":526},{"p":"C","s":"b","y":0,"x":610},{"p":"C","s":"b","y":0,"x":633},{"p":"C","s":"b","y":0,"x":656},{"p":"C","s":"b","y":0,"x":702},{"p":"C","s":"b","y":0,"x":725},{"p":"C","s":"b","y":0,"x":756},{"p":"C","s":"b","y":0,"x":786},{"p":"C","s":"b","y":0,"x":832},{"p":"C","s":"b","y":0,"x":855},{"p":"C","s":"b","y":0,"x":886},{"p":"C","s":"b","y":0,"x":947},{"p":"C","s":"b","y":0,"x":978},{"p":"C","s":"b","y":0,"x":1008},{"p":"C","s":"b","y":0,"x":1039},

  {"p":"D","s":"k","y":1,"x":342},{"p":"D","s":"k","y":1,"x":372},{"p":"D","s":"k","y":1,"x":449},{"p":"D","s":"k","y":1,"x":487},{"p":"D","s":"k","y":1,"x":533},{"p":"D","s":"k","y":1,"x":595},{"p":"D","s":"k","y":1,"x":664},{"p":"D","s":"k","y":1,"x":671},{"p":"D","s":"k","y":1,"x":687},{"p":"D","s":"k","y":1,"x":748},{"p":"D","s":"k","y":1,"x":863},{"p":"D","s":"k","y":1,"x":909},{"p":"D","s":"k","y":1,"x":1024},{"p":"D","s":"k","y":1,"x":1031},
  {"p":"D","s":"b","y":1,"x":633},{"p":"D","s":"b","y":1,"x":648},{"p":"D","s":"b","y":1,"x":664},{"p":"D","s":"b","y":1,"x":687},{"p":"D","s":"b","y":1,"x":709},{"p":"D","s":"b","y":1,"x":733},{"p":"D","s":"b","y":1,"x":786},
  {"p":"D","s":"k","y":0,"x":43},{"p":"D","s":"k","y":0,"x":89},{"p":"D","s":"k","y":0,"x":127},{"p":"D","s":"k","y":0,"x":204},{"p":"D","s":"k","y":0,"x":242},{"p":"D","s":"k","y":0,"x":326},{"p":"D","s":"k","y":0,"x":357},{"p":"D","s":"k","y":0,"x":403},{"p":"D","s":"k","y":0,"x":449},{"p":"D","s":"k","y":0,"x":503},{"p":"D","s":"k","y":0,"x":533},{"p":"D","s":"k","y":0,"x":564},{"p":"D","s":"k","y":0,"x":641},{"p":"D","s":"k","y":0,"x":687},{"p":"D","s":"k","y":0,"x":748},{"p":"D","s":"k","y":0,"x":855},{"p":"D","s":"k","y":0,"x":901},{"p":"D","s":"k","y":0,"x":1001},{"p":"D","s":"k","y":0,"x":1024},
  {"p":"D","s":"b","y":0,"x":36},{"p":"D","s":"b","y":0,"x":51},{"p":"D","s":"b","y":0,"x":74},{"p":"D","s":"b","y":0,"x":97},{"p":"D","s":"b","y":0,"x":135},{"p":"D","s":"b","y":0,"x":166},{"p":"D","s":"b","y":0,"x":196},{"p":"D","s":"b","y":0,"x":227},{"p":"D","s":"b","y":0,"x":257},{"p":"D","s":"b","y":0,"x":288},{"p":"D","s":"b","y":0,"x":311},{"p":"D","s":"b","y":0,"x":342},{"p":"D","s":"b","y":0,"x":388},{"p":"D","s":"b","y":0,"x":426},{"p":"D","s":"b","y":0,"x":472},{"p":"D","s":"b","y":0,"x":518},{"p":"D","s":"b","y":0,"x":610},{"p":"D","s":"b","y":0,"x":625},{"p":"D","s":"b","y":0,"x":648},{"p":"D","s":"b","y":0,"x":671},{"p":"D","s":"b","y":0,"x":694},{"p":"D","s":"b","y":0,"x":709},{"p":"D","s":"b","y":0,"x":725},{"p":"D","s":"b","y":0,"x":748},{"p":"D","s":"b","y":0,"x":771},{"p":"D","s":"b","y":0,"x":794},{"p":"D","s":"b","y":0,"x":840},{"p":"D","s":"b","y":0,"x":863},{"p":"D","s":"b","y":0,"x":886},{"p":"D","s":"b","y":0,"x":947},{"p":"D","s":"b","y":0,"x":978},{"p":"D","s":"b","y":0,"x":1001},{"p":"D","s":"b","y":0,"x":1031},{"p":"D","s":"b","y":0,"x":1045},

  {"p":"E","s":"k","y":1,"x":855},{"p":"E","s":"k","y":1,"x":1024},
  {"p":"E","s":"b","y":1,"x":610},{"p":"E","s":"b","y":1,"x":625},{"p":"E","s":"b","y":1,"x":648},{"p":"E","s":"b","y":1,"x":664},{"p":"E","s":"b","y":1,"x":702},{"p":"E","s":"b","y":1,"x":725},{"p":"E","s":"b","y":1,"x":748},{"p":"E","s":"b","y":1,"x":771},{"p":"E","s":"b","y":1,"x":794},{"p":"E","s":"b","y":1,"x":809},{"p":"E","s":"b","y":1,"x":840},{"p":"E","s":"b","y":1,"x":855},{"p":"E","s":"b","y":1,"x":870},{"p":"E","s":"b","y":1,"x":947},{"p":"E","s":"b","y":1,"x":962},{"p":"E","s":"b","y":1,"x":978},{"p":"E","s":"b","y":1,"x":993},{"p":"E","s":"b","y":1,"x":1008},{"p":"E","s":"b","y":1,"x":1024},{"p":"E","s":"b","y":1,"x":1039},
  {"p":"E","s":"k","y":0,"x":35},{"p":"E","s":"k","y":0,"x":89},{"p":"E","s":"k","y":0,"x":120},{"p":"E","s":"k","y":0,"x":204},{"p":"E","s":"k","y":0,"x":234},{"p":"E","s":"k","y":0,"x":326},{"p":"E","s":"k","y":0,"x":365},{"p":"E","s":"k","y":0,"x":411},{"p":"E","s":"k","y":0,"x":457},{"p":"E","s":"k","y":0,"x":472},{"p":"E","s":"k","y":0,"x":495},{"p":"E","s":"k","y":0,"x":518},{"p":"E","s":"k","y":0,"x":533},{"p":"E","s":"k","y":0,"x":556},{"p":"E","s":"k","y":0,"x":602},{"p":"E","s":"k","y":0,"x":641},{"p":"E","s":"k","y":0,"x":671},{"p":"E","s":"k","y":0,"x":687},{"p":"E","s":"k","y":0,"x":717},{"p":"E","s":"k","y":0,"x":733},{"p":"E","s":"k","y":0,"x":748},{"p":"E","s":"k","y":0,"x":863},{"p":"E","s":"k","y":0,"x":886},{"p":"E","s":"k","y":0,"x":909},{"p":"E","s":"k","y":0,"x":978},{"p":"E","s":"k","y":0,"x":1008},{"p":"E","s":"k","y":0,"x":1047},
  {"p":"E","s":"b","y":0,"x":35},{"p":"E","s":"b","y":0,"x":49},{"p":"E","s":"b","y":0,"x":74},{"p":"E","s":"b","y":0,"x":104},{"p":"E","s":"b","y":0,"x":135},{"p":"E","s":"b","y":0,"x":166},{"p":"E","s":"b","y":0,"x":196},{"p":"E","s":"b","y":0,"x":227},{"p":"E","s":"b","y":0,"x":257},{"p":"E","s":"b","y":0,"x":288},{"p":"E","s":"b","y":0,"x":319},{"p":"E","s":"b","y":0,"x":349},{"p":"E","s":"b","y":0,"x":380},{"p":"E","s":"b","y":0,"x":411},{"p":"E","s":"b","y":0,"x":441},{"p":"E","s":"b","y":0,"x":472},{"p":"E","s":"b","y":0,"x":503},{"p":"E","s":"b","y":0,"x":533},{"p":"E","s":"b","y":0,"x":564},{"p":"E","s":"b","y":0,"x":625},{"p":"E","s":"b","y":0,"x":648},{"p":"E","s":"b","y":0,"x":671},{"p":"E","s":"b","y":0,"x":702},{"p":"E","s":"b","y":0,"x":725},{"p":"E","s":"b","y":0,"x":748},{"p":"E","s":"b","y":0,"x":886},

  {"p":"F","s":"k","y":1,"x":365},{"p":"F","s":"k","y":1,"x":403},{"p":"F","s":"k","y":1,"x":602},{"p":"F","s":"k","y":1,"x":656},
  {"p":"F","s":"b","y":1,"x":303},{"p":"F","s":"b","y":1,"x":334},{"p":"F","s":"b","y":1,"x":480},{"p":"F","s":"b","y":1,"x":526},{"p":"F","s":"b","y":1,"x":610},{"p":"F","s":"b","y":1,"x":625},{"p":"F","s":"b","y":1,"x":641},{"p":"F","s":"b","y":1,"x":664},{"p":"F","s":"b","y":1,"x":687},{"p":"F","s":"b","y":1,"x":710},{"p":"F","s":"b","y":1,"x":733},{"p":"F","s":"b","y":1,"x":756},{"p":"F","s":"b","y":1,"x":786},{"p":"F","s":"b","y":1,"x":863},{"p":"F","s":"b","y":1,"x":878},{"p":"F","s":"b","y":1,"x":901},{"p":"F","s":"b","y":1,"x":947},{"p":"F","s":"b","y":1,"x":981},
  {"p":"F","s":"k","y":0,"x":58},{"p":"F","s":"k","y":0,"x":104},{"p":"F","s":"k","y":0,"x":127},{"p":"F","s":"k","y":0,"x":326},{"p":"F","s":"k","y":0,"x":357},{"p":"F","s":"k","y":0,"x":372},{"p":"F","s":"k","y":0,"x":457},{"p":"F","s":"k","y":0,"x":487},{"p":"F","s":"k","y":0,"x":495},{"p":"F","s":"k","y":0,"x":510},{"p":"F","s":"k","y":0,"x":533},{"p":"F","s":"k","y":0,"x":556},{"p":"F","s":"k","y":0,"x":656},{"p":"F","s":"k","y":0,"x":687},{"p":"F","s":"k","y":0,"x":694},{"p":"F","s":"k","y":0,"x":748},{"p":"F","s":"k","y":0,"x":763},{"p":"F","s":"k","y":0,"x":855},{"p":"F","s":"k","y":0,"x":878},{"p":"F","s":"k","y":0,"x":901},{"p":"F","s":"k","y":0,"x":1024},
  {"p":"F","s":"b","y":0,"x":35},{"p":"F","s":"b","y":0,"x":51},{"p":"F","s":"b","y":0,"x":74},{"p":"F","s":"b","y":0,"x":97},{"p":"F","s":"b","y":0,"x":150},{"p":"F","s":"b","y":0,"x":196},{"p":"F","s":"b","y":0,"x":227},{"p":"F","s":"b","y":0,"x":257},{"p":"F","s":"b","y":0,"x":280},{"p":"F","s":"b","y":0,"x":334},{"p":"F","s":"b","y":0,"x":395},{"p":"F","s":"b","y":0,"x":411},{"p":"F","s":"b","y":0,"x":441},{"p":"F","s":"b","y":0,"x":472},{"p":"F","s":"b","y":0,"x":518},{"p":"F","s":"b","y":0,"x":533},{"p":"F","s":"b","y":0,"x":625},{"p":"F","s":"b","y":0,"x":641},{"p":"F","s":"b","y":0,"x":664},{"p":"F","s":"b","y":0,"x":717},{"p":"F","s":"b","y":0,"x":733},{"p":"F","s":"b","y":0,"x":779},{"p":"F","s":"b","y":0,"x":794},{"p":"F","s":"b","y":0,"x":832},{"p":"F","s":"b","y":0,"x":855},{"p":"F","s":"b","y":0,"x":886},{"p":"F","s":"b","y":0,"x":917},{"p":"F","s":"b","y":0,"x":955},{"p":"F","s":"b","y":0,"x":978},{"p":"F","s":"b","y":0,"x":993},{"p":"F","s":"b","y":0,"x":1008},{"p":"F","s":"b","y":0,"x":1024},{"p":"F","s":"b","y":0,"x":1039},{"p":"F","s":"b","y":0,"x":1045},

  {"p":"G","s":"k","y":1,"x":342},{"p":"G","s":"k","y":1,"x":372},{"p":"G","s":"k","y":1,"x":411},{"p":"G","s":"k","y":1,"x":449},{"p":"G","s":"k","y":1,"x":487},{"p":"G","s":"k","y":1,"x":518},{"p":"G","s":"k","y":1,"x":541},{"p":"G","s":"k","y":1,"x":595},{"p":"G","s":"k","y":1,"x":656},{"p":"G","s":"k","y":1,"x":671},{"p":"G","s":"k","y":1,"x":687},{"p":"G","s":"k","y":1,"x":694},{"p":"G","s":"k","y":1,"x":748},{"p":"G","s":"k","y":1,"x":863},{"p":"G","s":"k","y":1,"x":985},{"p":"G","s":"k","y":1,"x":1001},
  {"p":"G","s":"b","y":1,"x":97},{"p":"G","s":"b","y":1,"x":464},{"p":"G","s":"b","y":1,"x":480},{"p":"G","s":"b","y":1,"x":495},{"p":"G","s":"b","y":1,"x":518},{"p":"G","s":"b","y":1,"x":533},{"p":"G","s":"b","y":1,"x":717},{"p":"G","s":"b","y":1,"x":733},{"p":"G","s":"b","y":1,"x":748},{"p":"G","s":"b","y":1,"x":786},{"p":"G","s":"b","y":1,"x":901},{"p":"G","s":"b","y":1,"x":978},
  {"p":"G","s":"k","y":0,"x":43},{"p":"G","s":"k","y":0,"x":89},{"p":"G","s":"k","y":0,"x":112},{"p":"G","s":"k","y":0,"x":211},{"p":"G","s":"k","y":0,"x":227},{"p":"G","s":"k","y":0,"x":349},{"p":"G","s":"k","y":0,"x":372},{"p":"G","s":"k","y":0,"x":457},{"p":"G","s":"k","y":0,"x":480},{"p":"G","s":"k","y":0,"x":495},{"p":"G","s":"k","y":0,"x":556},{"p":"G","s":"k","y":0,"x":641},{"p":"G","s":"k","y":0,"x":656},{"p":"G","s":"k","y":0,"x":687},{"p":"G","s":"k","y":0,"x":733},{"p":"G","s":"k","y":0,"x":748},{"p":"G","s":"k","y":0,"x":771},{"p":"G","s":"k","y":0,"x":863},{"p":"G","s":"k","y":0,"x":878},{"p":"G","s":"k","y":0,"x":901},{"p":"G","s":"k","y":0,"x":916},{"p":"G","s":"k","y":0,"x":1008},{"p":"G","s":"k","y":0,"x":1024},{"p":"G","s":"k","y":0,"x":1047},
  {"p":"G","s":"b","y":0,"x":36},{"p":"G","s":"b","y":0,"x":51},{"p":"G","s":"b","y":0,"x":74},{"p":"G","s":"b","y":0,"x":97},{"p":"G","s":"b","y":0,"x":127},{"p":"G","s":"b","y":0,"x":166},{"p":"G","s":"b","y":0,"x":189},{"p":"G","s":"b","y":0,"x":234},{"p":"G","s":"b","y":0,"x":257},{"p":"G","s":"b","y":0,"x":280},{"p":"G","s":"b","y":0,"x":303},{"p":"G","s":"b","y":0,"x":326},{"p":"G","s":"b","y":0,"x":388},{"p":"G","s":"b","y":0,"x":411},{"p":"G","s":"b","y":0,"x":434},{"p":"G","s":"b","y":0,"x":518},{"p":"G","s":"b","y":0,"x":610},{"p":"G","s":"b","y":0,"x":625},{"p":"G","s":"b","y":0,"x":648},{"p":"G","s":"b","y":0,"x":671},{"p":"G","s":"b","y":0,"x":694},{"p":"G","s":"b","y":0,"x":717},{"p":"G","s":"b","y":0,"x":763},{"p":"G","s":"b","y":0,"x":794},{"p":"G","s":"b","y":0,"x":840},{"p":"G","s":"b","y":0,"x":871},{"p":"G","s":"b","y":0,"x":947},{"p":"G","s":"b","y":0,"x":978},{"p":"G","s":"b","y":0,"x":1001},{"p":"G","s":"b","y":0,"x":1024},{"p":"G","s":"b","y":0,"x":1045},

  {"p":"H","s":"k","y":1,"x":43},{"p":"H","s":"k","y":1,"x":97},{"p":"H","s":"k","y":1,"x":204},{"p":"H","s":"k","y":1,"x":219},{"p":"H","s":"k","y":1,"x":242},{"p":"H","s":"k","y":1,"x":365},{"p":"H","s":"k","y":1,"x":457},{"p":"H","s":"k","y":1,"x":549},{"p":"H","s":"k","y":1,"x":564},{"p":"H","s":"k","y":1,"x":595},{"p":"H","s":"k","y":1,"x":748},
  {"p":"H","s":"b","y":1,"x":43},{"p":"H","s":"b","y":1,"x":58},{"p":"H","s":"b","y":1,"x":74},{"p":"H","s":"b","y":1,"x":97},{"p":"H","s":"b","y":1,"x":166},{"p":"H","s":"b","y":1,"x":196},{"p":"H","s":"b","y":1,"x":250},{"p":"H","s":"b","y":1,"x":265},{"p":"H","s":"b","y":1,"x":288},{"p":"H","s":"b","y":1,"x":311},{"p":"H","s":"b","y":1,"x":395},{"p":"H","s":"b","y":1,"x":411},{"p":"H","s":"b","y":1,"x":426},{"p":"H","s":"b","y":1,"x":518},{"p":"H","s":"b","y":1,"x":533},{"p":"H","s":"b","y":1,"x":541},{"p":"H","s":"b","y":1,"x":618},{"p":"H","s":"b","y":1,"x":625},{"p":"H","s":"b","y":1,"x":702},{"p":"H","s":"b","y":1,"x":717},{"p":"H","s":"b","y":1,"x":733},{"p":"H","s":"b","y":1,"x":786},
  {"p":"H","s":"k","y":0,"x":35},{"p":"H","s":"k","y":0,"x":81},{"p":"H","s":"k","y":0,"x":120},{"p":"H","s":"k","y":0,"x":127},{"p":"H","s":"k","y":0,"x":319},{"p":"H","s":"k","y":0,"x":342},{"p":"H","s":"k","y":0,"x":365},{"p":"H","s":"k","y":0,"x":403},{"p":"H","s":"k","y":0,"x":449},{"p":"H","s":"k","y":0,"x":472},{"p":"H","s":"k","y":0,"x":487},{"p":"H","s":"k","y":0,"x":518},{"p":"H","s":"k","y":0,"x":648},{"p":"H","s":"k","y":0,"x":679},{"p":"H","s":"k","y":0,"x":710},{"p":"H","s":"k","y":0,"x":740},{"p":"H","s":"k","y":0,"x":756},{"p":"H","s":"k","y":0,"x":870},{"p":"H","s":"k","y":0,"x":886},{"p":"H","s":"k","y":0,"x":1008},{"p":"H","s":"k","y":0,"x":1031},{"p":"H","s":"k","y":0,"x":1047},
  {"p":"H","s":"b","y":0,"x":35},{"p":"H","s":"b","y":0,"x":135},{"p":"H","s":"b","y":0,"x":189},{"p":"H","s":"b","y":0,"x":303},{"p":"H","s":"b","y":0,"x":349},{"p":"H","s":"b","y":0,"x":426},{"p":"H","s":"b","y":0,"x":487},{"p":"H","s":"b","y":0,"x":533},{"p":"H","s":"b","y":0,"x":625},{"p":"H","s":"b","y":0,"x":641},{"p":"H","s":"b","y":0,"x":656},{"p":"H","s":"b","y":0,"x":671},{"p":"H","s":"b","y":0,"x":702},{"p":"H","s":"b","y":0,"x":725},{"p":"H","s":"b","y":0,"x":748},{"p":"H","s":"b","y":0,"x":779},{"p":"H","s":"b","y":0,"x":794},{"p":"H","s":"b","y":0,"x":840},{"p":"H","s":"b","y":0,"x":855},{"p":"H","s":"b","y":0,"x":870},{"p":"H","s":"b","y":0,"x":886},{"p":"H","s":"b","y":0,"x":901},{"p":"H","s":"b","y":0,"x":932},{"p":"H","s":"b","y":0,"x":962},{"p":"H","s":"b","y":0,"x":993},{"p":"H","s":"b","y":0,"x":1024},{"p":"H","s":"b","y":0,"x":1047},

  {"p":"I","s":"k","y":1,"x":35},{"p":"I","s":"k","y":1,"x":81},{"p":"I","s":"k","y":1,"x":130},{"p":"I","s":"k","y":1,"x":326},{"p":"I","s":"k","y":1,"x":365},{"p":"I","s":"k","y":1,"x":403},{"p":"I","s":"k","y":1,"x":449},{"p":"I","s":"k","y":1,"x":733},
  {"p":"I","s":"b","y":1,"x":35},{"p":"I","s":"b","y":1,"x":43},{"p":"I","s":"b","y":1,"x":196},
  {"p":"I","s":"k","y":0,"x":97},{"p":"I","s":"k","y":0,"x":120},{"p":"I","s":"k","y":0,"x":127},{"p":"I","s":"k","y":0,"x":211},{"p":"I","s":"k","y":0,"x":342},{"p":"I","s":"k","y":0,"x":472},{"p":"I","s":"k","y":0,"x":495},{"p":"I","s":"k","y":0,"x":556},{"p":"I","s":"k","y":0,"x":641},{"p":"I","s":"k","y":0,"x":687},{"p":"I","s":"k","y":0,"x":756},{"p":"I","s":"k","y":0,"x":840},{"p":"I","s":"k","y":0,"x":870},{"p":"I","s":"k","y":0,"x":924},{"p":"I","s":"k","y":0,"x":1031},{"p":"I","s":"k","y":0,"x":1047},
  {"p":"I","s":"b","y":0,"x":58},{"p":"I","s":"b","y":0,"x":81},{"p":"I","s":"b","y":0,"x":104},{"p":"I","s":"b","y":0,"x":135},{"p":"I","s":"b","y":0,"x":166},{"p":"I","s":"b","y":0,"x":181},{"p":"I","s":"b","y":0,"x":219},{"p":"I","s":"b","y":0,"x":242},{"p":"I","s":"b","y":0,"x":265},{"p":"I","s":"b","y":0,"x":288},{"p":"I","s":"b","y":0,"x":311},{"p":"I","s":"b","y":0,"x":334},{"p":"I","s":"b","y":0,"x":365},{"p":"I","s":"b","y":0,"x":395},{"p":"I","s":"b","y":0,"x":426},{"p":"I","s":"b","y":0,"x":457},{"p":"I","s":"b","y":0,"x":487},{"p":"I","s":"b","y":0,"x":518},{"p":"I","s":"b","y":0,"x":564},{"p":"I","s":"b","y":0,"x":595},{"p":"I","s":"b","y":0,"x":633},{"p":"I","s":"b","y":0,"x":656},{"p":"I","s":"b","y":0,"x":687},{"p":"I","s":"b","y":0,"x":733},{"p":"I","s":"b","y":0,"x":763},{"p":"I","s":"b","y":0,"x":794},{"p":"I","s":"b","y":0,"x":840},{"p":"I","s":"b","y":0,"x":870},{"p":"I","s":"b","y":0,"x":901},{"p":"I","s":"b","y":0,"x":947},{"p":"I","s":"b","y":0,"x":978},{"p":"I","s":"b","y":0,"x":1008},{"p":"I","s":"b","y":0,"x":1031},{"p":"I","s":"b","y":0,"x":1047},

  {"p":"J","s":"k","y":1,"x":35},{"p":"J","s":"k","y":1,"x":93},{"p":"J","s":"k","y":1,"x":742},
  {"p":"J","s":"b","y":1,"x":93},{"p":"J","s":"b","y":1,"x":166},
  {"p":"J","s":"k","y":0,"x":35},{"p":"J","s":"k","y":0,"x":81},{"p":"J","s":"k","y":0,"x":112},{"p":"J","s":"k","y":0,"x":127},{"p":"J","s":"k","y":0,"x":135},{"p":"J","s":"k","y":0,"x":204},{"p":"J","s":"k","y":0,"x":242},{"p":"J","s":"k","y":0,"x":380},{"p":"J","s":"k","y":0,"x":457},{"p":"J","s":"k","y":0,"x":564},{"p":"J","s":"k","y":0,"x":602},{"p":"J","s":"k","y":0,"x":625},{"p":"J","s":"k","y":0,"x":687},{"p":"J","s":"k","y":0,"x":809},{"p":"J","s":"k","y":0,"x":870},{"p":"J","s":"k","y":0,"x":901},{"p":"J","s":"k","y":0,"x":1008},{"p":"J","s":"k","y":0,"x":1039},
  {"p":"J","s":"b","y":0,"x":35},{"p":"J","s":"b","y":0,"x":51},{"p":"J","s":"b","y":0,"x":74},{"p":"J","s":"b","y":0,"x":97},{"p":"J","s":"b","y":0,"x":120},{"p":"J","s":"b","y":0,"x":196},{"p":"J","s":"b","y":0,"x":227},{"p":"J","s":"b","y":0,"x":288},{"p":"J","s":"b","y":0,"x":311},{"p":"J","s":"b","y":0,"x":334},{"p":"J","s":"b","y":0,"x":365},{"p":"J","s":"b","y":0,"x":395},{"p":"J","s":"b","y":0,"x":418},{"p":"J","s":"b","y":0,"x":441},{"p":"J","s":"b","y":0,"x":472},{"p":"J","s":"b","y":0,"x":503},{"p":"J","s":"b","y":0,"x":533},{"p":"J","s":"b","y":0,"x":564},{"p":"J","s":"b","y":0,"x":602},{"p":"J","s":"b","y":0,"x":641},{"p":"J","s":"b","y":0,"x":671},{"p":"J","s":"b","y":0,"x":702},{"p":"J","s":"b","y":0,"x":733},{"p":"J","s":"b","y":0,"x":779},{"p":"J","s":"b","y":0,"x":840},{"p":"J","s":"b","y":0,"x":863},{"p":"J","s":"b","y":0,"x":886},{"p":"J","s":"b","y":0,"x":947},{"p":"J","s":"b","y":0,"x":978},{"p":"J","s":"b","y":0,"x":1001},{"p":"J","s":"b","y":0,"x":1024},{"p":"J","s":"b","y":0,"x":1045},

  {"p":"K","s":"k","y":1,"x":99},{"p":"K","s":"k","y":1,"x":343},{"p":"K","s":"k","y":1,"x":412},{"p":"K","s":"k","y":1,"x":465},{"p":"K","s":"k","y":1,"x":671},{"p":"K","s":"k","y":1,"x":686},{"p":"K","s":"k","y":1,"x":694},{"p":"K","s":"k","y":1,"x":1006},
  {"p":"K","s":"b","y":1,"x":46},{"p":"K","s":"b","y":1,"x":61},{"p":"K","s":"b","y":1,"x":76},{"p":"K","s":"b","y":1,"x":99},{"p":"K","s":"b","y":1,"x":206},{"p":"K","s":"b","y":1,"x":313},{"p":"K","s":"b","y":1,"x":328},{"p":"K","s":"b","y":1,"x":610},{"p":"K","s":"b","y":1,"x":625},{"p":"K","s":"b","y":1,"x":640},{"p":"K","s":"b","y":1,"x":655},{"p":"K","s":"b","y":1,"x":701},{"p":"K","s":"b","y":1,"x":716},{"p":"K","s":"b","y":1,"x":732},{"p":"K","s":"b","y":1,"x":755},
  {"p":"K","s":"k","y":0,"x":38},{"p":"K","s":"k","y":0,"x":84},{"p":"K","s":"k","y":0,"x":130},{"p":"K","s":"k","y":0,"x":137},{"p":"K","s":"k","y":0,"x":213},{"p":"K","s":"k","y":0,"x":252},{"p":"K","s":"k","y":0,"x":320},{"p":"K","s":"k","y":0,"x":373},{"p":"K","s":"k","y":0,"x":412},{"p":"K","s":"k","y":0,"x":457},{"p":"K","s":"k","y":0,"x":495},{"p":"K","s":"k","y":0,"x":526},{"p":"K","s":"k","y":0,"x":564},{"p":"K","s":"k","y":0,"x":602},{"p":"K","s":"k","y":0,"x":648},{"p":"K","s":"k","y":0,"x":663},{"p":"K","s":"k","y":0,"x":678},{"p":"K","s":"k","y":0,"x":747},{"p":"K","s":"k","y":0,"x":762},{"p":"K","s":"k","y":0,"x":869},{"p":"K","s":"k","y":0,"x":892},{"p":"K","s":"k","y":0,"x":907},{"p":"K","s":"k","y":0,"x":1006},{"p":"K","s":"k","y":0,"x":1029},{"p":"K","s":"k","y":0,"x":1044},
  {"p":"K","s":"b","y":0,"x":38},{"p":"K","s":"b","y":0,"x":46},{"p":"K","s":"b","y":0,"x":61},{"p":"K","s":"b","y":0,"x":107},{"p":"K","s":"b","y":0,"x":152},{"p":"K","s":"b","y":0,"x":175},{"p":"K","s":"b","y":0,"x":198},{"p":"K","s":"b","y":0,"x":236},{"p":"K","s":"b","y":0,"x":259},{"p":"K","s":"b","y":0,"x":290},{"p":"K","s":"b","y":0,"x":320},{"p":"K","s":"b","y":0,"x":351},{"p":"K","s":"b","y":0,"x":381},{"p":"K","s":"b","y":0,"x":412},{"p":"K","s":"b","y":0,"x":442},{"p":"K","s":"b","y":0,"x":473},{"p":"K","s":"b","y":0,"x":503},{"p":"K","s":"b","y":0,"x":534},{"p":"K","s":"b","y":0,"x":549},{"p":"K","s":"b","y":0,"x":625},{"p":"K","s":"b","y":0,"x":655},{"p":"K","s":"b","y":0,"x":686},{"p":"K","s":"b","y":0,"x":716},{"p":"K","s":"b","y":0,"x":747},{"p":"K","s":"b","y":0,"x":777},{"p":"K","s":"b","y":0,"x":838},{"p":"K","s":"b","y":0,"x":869},{"p":"K","s":"b","y":0,"x":899},{"p":"K","s":"b","y":0,"x":945},{"p":"K","s":"b","y":0,"x":976},{"p":"K","s":"b","y":0,"x":1006},{"p":"K","s":"b","y":0,"x":1021},{"p":"K","s":"b","y":0,"x":1044}
 ]
},
"columns": 3,
"bounds": "flush",
"spacing": {"row": 11.5, "column": 12},
"concat": [
 {"title":"A","width":238,"height":134,
  "layer":[
   {"data":{"name":"curves"},"transform":[{"filter":"datum.p=='A'"}],"mark":{"type":"area","fill":"#000000","fillOpacity":0.09,"interpolate":"monotone"},"encoding":{"x":{"field":"x","type":"quantitative","title":null,"scale":{"domain":[-5,1087],"nice":false,"zero":false},"axis":{"values":[100,200,300,400,500,600,700,800,900,1000],"labels":false,"title":null}},"y":{"field":"greyLo","type":"quantitative","title":null,"scale":{"domain":[-0.04,1.04],"nice":false,"zero":false},"axis":{"values":[0,0.5,1],"format":".1f","title":null}},"y2":{"field":"greyHi"}}},
   {"data":{"name":"curves"},"transform":[{"filter":"datum.p=='A'"}],"mark":{"type":"area","fill":"#0000ff","fillOpacity":0.2,"interpolate":"monotone"},"encoding":{"x":{"field":"x","type":"quantitative","title":null},"y":{"field":"blueLo","type":"quantitative","title":null},"y2":{"field":"blueHi"}}},
   {"data":{"name":"curves"},"transform":[{"filter":"datum.p=='A'"},{"fold":["greyLo","greyHi","blueLo","blueHi"],"as":["k","v"]}],"mark":{"type":"line","strokeWidth":0.8,"interpolate":"monotone"},"encoding":{"x":{"field":"x","type":"quantitative","title":null},"y":{"field":"v","type":"quantitative","title":null},"color":{"field":"k","type":"nominal","scale":{"domain":["greyLo","greyHi","blueLo","blueHi","black","blue"],"range":["#8c8c8c","#8c8c8c","#6b6ba8","#6b6ba8","#000000","#1414d2"]},"legend":null}}},
   {"data":{"name":"curves"},"transform":[{"filter":"datum.p=='A'"},{"fold":["black","blue"],"as":["k","v"]}],"mark":{"type":"line","strokeWidth":1,"interpolate":"monotone"},"encoding":{"x":{"field":"x","type":"quantitative","title":null},"y":{"field":"v","type":"quantitative","title":null},"color":{"field":"k","type":"nominal","legend":null}}},
   {"data":{"name":"pts"},"transform":[{"filter":"datum.p=='A' && datum.s=='b'"}],"mark":{"type":"circle","fill":"#2020e6","size":14,"opacity":1},"encoding":{"x":{"field":"x","type":"quantitative","title":null},"y":{"field":"y","type":"quantitative","title":null}}},
   {"data":{"name":"pts"},"transform":[{"filter":"datum.p=='A' && datum.s=='k'"}],"mark":{"type":"point","shape":"circle","filled":false,"stroke":"#000000","strokeWidth":0.8,"size":40,"opacity":1},"encoding":{"x":{"field":"x","type":"quantitative","title":null},"y":{"field":"y","type":"quantitative","title":null}}},
   {"data":{"values":[{"name":"E. portoricensis"}]},"mark":{"type":"text","align":"left","baseline":"alphabetic","fontStyle":"italic","fontSize":12.5,"color":"#000000"},"encoding":{"x":{"datum":-2,"type":"quantitative","title":null},"y":{"datum":0.87,"type":"quantitative","title":null},"text":{"field":"name"}}}
  ]},
 {"title":"B","width":238,"height":134,
  "layer":[
   {"data":{"name":"curves"},"transform":[{"filter":"datum.p=='B'"}],"mark":{"type":"area","fill":"#000000","fillOpacity":0.09,"interpolate":"monotone"},"encoding":{"x":{"field":"x","type":"quantitative","title":null,"scale":{"domain":[-5,1087],"nice":false,"zero":false},"axis":{"values":[100,200,300,400,500,600,700,800,900,1000],"labels":false,"title":null}},"y":{"field":"greyLo","type":"quantitative","title":null,"scale":{"domain":[-0.04,1.04],"nice":false,"zero":false},"axis":{"values":[0,0.5,1],"labels":false,"title":null}},"y2":{"field":"greyHi"}}},
   {"data":{"name":"curves"},"transform":[{"filter":"datum.p=='B'"}],"mark":{"type":"area","fill":"#0000ff","fillOpacity":0.2,"interpolate":"monotone"},"encoding":{"x":{"field":"x","type":"quantitative","title":null},"y":{"field":"blueLo","type":"quantitative","title":null},"y2":{"field":"blueHi"}}},
   {"data":{"name":"curves"},"transform":[{"filter":"datum.p=='B'"},{"fold":["greyLo","greyHi","blueLo","blueHi"],"as":["k","v"]}],"mark":{"type":"line","strokeWidth":0.8,"interpolate":"monotone"},"encoding":{"x":{"field":"x","type":"quantitative","title":null},"y":{"field":"v","type":"quantitative","title":null},"color":{"field":"k","type":"nominal","legend":null}}},
   {"data":{"name":"curves"},"transform":[{"filter":"datum.p=='B'"},{"fold":["black","blue"],"as":["k","v"]}],"mark":{"type":"line","strokeWidth":1,"interpolate":"monotone"},"encoding":{"x":{"field":"x","type":"quantitative","title":null},"y":{"field":"v","type":"quantitative","title":null},"color":{"field":"k","type":"nominal","legend":null}}},
   {"data":{"name":"pts"},"transform":[{"filter":"datum.p=='B' && datum.s=='b'"}],"mark":{"type":"circle","fill":"#2020e6","size":14,"opacity":1},"encoding":{"x":{"field":"x","type":"quantitative","title":null},"y":{"field":"y","type":"quantitative","title":null}}},
   {"data":{"name":"pts"},"transform":[{"filter":"datum.p=='B' && datum.s=='k'"}],"mark":{"type":"point","shape":"circle","filled":false,"stroke":"#000000","strokeWidth":0.8,"size":40,"opacity":1},"encoding":{"x":{"field":"x","type":"quantitative","title":null},"y":{"field":"y","type":"quantitative","title":null}}},
   {"data":{"values":[{"name":"E. gryllus"}]},"mark":{"type":"text","align":"left","baseline":"alphabetic","fontStyle":"italic","fontSize":12.5,"color":"#000000"},"encoding":{"x":{"datum":81,"type":"quantitative","title":null},"y":{"datum":0.875,"type":"quantitative","title":null},"text":{"field":"name"}}}
  ]},
 {"title":"C","width":238,"height":134,
  "layer":[
   {"data":{"name":"curves"},"transform":[{"filter":"datum.p=='C'"}],"mark":{"type":"area","fill":"#000000","fillOpacity":0.09,"interpolate":"monotone"},"encoding":{"x":{"field":"x","type":"quantitative","title":null,"scale":{"domain":[-5,1087],"nice":false,"zero":false},"axis":{"values":[100,200,300,400,500,600,700,800,900,1000],"labels":false,"title":null}},"y":{"field":"greyLo","type":"quantitative","title":null,"scale":{"domain":[-0.04,1.04],"nice":false,"zero":false},"axis":{"values":[0,0.5,1],"labels":false,"title":null}},"y2":{"field":"greyHi"}}},
   {"data":{"name":"curves"},"transform":[{"filter":"datum.p=='C'"}],"mark":{"type":"area","fill":"#0000ff","fillOpacity":0.2,"interpolate":"monotone"},"encoding":{"x":{"field":"x","type":"quantitative","title":null},"y":{"field":"blueLo","type":"quantitative","title":null},"y2":{"field":"blueHi"}}},
   {"data":{"name":"curves"},"transform":[{"filter":"datum.p=='C'"},{"fold":["greyLo","greyHi","blueLo","blueHi"],"as":["k","v"]}],"mark":{"type":"line","strokeWidth":0.8,"interpolate":"monotone"},"encoding":{"x":{"field":"x","type":"quantitative","title":null},"y":{"field":"v","type":"quantitative","title":null},"color":{"field":"k","type":"nominal","legend":null}}},
   {"data":{"name":"curves"},"transform":[{"filter":"datum.p=='C'"},{"fold":["black","blue"],"as":["k","v"]}],"mark":{"type":"line","strokeWidth":1,"interpolate":"monotone"},"encoding":{"x":{"field":"x","type":"quantitative","title":null},"y":{"field":"v","type":"quantitative","title":null},"color":{"field":"k","type":"nominal","legend":null}}},
   {"data":{"name":"pts"},"transform":[{"filter":"datum.p=='C' && datum.s=='b'"}],"mark":{"type":"circle","fill":"#2020e6","size":14,"opacity":1},"encoding":{"x":{"field":"x","type":"quantitative","title":null},"y":{"field":"y","type":"quantitative","title":null}}},
   {"data":{"name":"pts"},"transform":[{"filter":"datum.p=='C' && datum.s=='k'"}],"mark":{"type":"point","shape":"circle","filled":false,"stroke":"#000000","strokeWidth":0.8,"size":40,"opacity":1},"encoding":{"x":{"field":"x","type":"quantitative","title":null},"y":{"field":"y","type":"quantitative","title":null}}},
   {"data":{"values":[{"name":"E. locustus"}]},"mark":{"type":"text","align":"left","baseline":"alphabetic","fontStyle":"italic","fontSize":12.5,"color":"#000000"},"encoding":{"x":{"datum":62,"type":"quantitative","title":null},"y":{"datum":0.87,"type":"quantitative","title":null},"text":{"field":"name"}}}
  ]},
 {"title":"D","width":238,"height":134,
  "layer":[
   {"data":{"name":"curves"},"transform":[{"filter":"datum.p=='D'"}],"mark":{"type":"area","fill":"#000000","fillOpacity":0.09,"interpolate":"monotone"},"encoding":{"x":{"field":"x","type":"quantitative","title":null,"scale":{"domain":[-5,1087],"nice":false,"zero":false},"axis":{"values":[100,200,300,400,500,600,700,800,900,1000],"labels":false,"title":null}},"y":{"field":"greyLo","type":"quantitative","title":"Occurrence probability","scale":{"domain":[-0.04,1.04],"nice":false,"zero":false},"axis":{"values":[0,0.5,1],"format":".1f","title":"Occurrence probability","titleFontSize":15,"titleX":-37.5,"titleY":138.5,"titleAngle":270,"titleAlign":"center","titleBaseline":"alphabetic"}},"y2":{"field":"greyHi"}}},
   {"data":{"name":"curves"},"transform":[{"filter":"datum.p=='D'"}],"mark":{"type":"area","fill":"#0000ff","fillOpacity":0.2,"interpolate":"monotone"},"encoding":{"x":{"field":"x","type":"quantitative","title":null},"y":{"field":"blueLo","type":"quantitative","title":"Occurrence probability"},"y2":{"field":"blueHi"}}},
   {"data":{"name":"curves"},"transform":[{"filter":"datum.p=='D'"},{"fold":["greyLo","greyHi","blueLo","blueHi"],"as":["k","v"]}],"mark":{"type":"line","strokeWidth":0.8,"interpolate":"monotone"},"encoding":{"x":{"field":"x","type":"quantitative","title":null},"y":{"field":"v","type":"quantitative","title":"Occurrence probability"},"color":{"field":"k","type":"nominal","legend":null}}},
   {"data":{"name":"curves"},"transform":[{"filter":"datum.p=='D'"},{"fold":["black","blue"],"as":["k","v"]}],"mark":{"type":"line","strokeWidth":1,"interpolate":"monotone"},"encoding":{"x":{"field":"x","type":"quantitative","title":null},"y":{"field":"v","type":"quantitative","title":"Occurrence probability"},"color":{"field":"k","type":"nominal","legend":null}}},
   {"data":{"name":"pts"},"transform":[{"filter":"datum.p=='D' && datum.s=='b'"}],"mark":{"type":"circle","fill":"#2020e6","size":14,"opacity":1},"encoding":{"x":{"field":"x","type":"quantitative","title":null},"y":{"field":"y","type":"quantitative","title":"Occurrence probability"}}},
   {"data":{"name":"pts"},"transform":[{"filter":"datum.p=='D' && datum.s=='k'"}],"mark":{"type":"point","shape":"circle","filled":false,"stroke":"#000000","strokeWidth":0.8,"size":40,"opacity":1},"encoding":{"x":{"field":"x","type":"quantitative","title":null},"y":{"field":"y","type":"quantitative","title":"Occurrence probability"}}},
   {"data":{"values":[{"name":"E. richmondi"}]},"mark":{"type":"text","align":"left","baseline":"alphabetic","fontStyle":"italic","fontSize":12.5,"color":"#000000"},"encoding":{"x":{"datum":43,"type":"quantitative","title":null},"y":{"datum":0.865,"type":"quantitative","title":"Occurrence probability"},"text":{"field":"name"}}}
  ]},
 {"title":"E","width":238,"height":134,
  "layer":[
   {"data":{"name":"curves"},"transform":[{"filter":"datum.p=='E'"}],"mark":{"type":"area","fill":"#000000","fillOpacity":0.09,"interpolate":"monotone"},"encoding":{"x":{"field":"x","type":"quantitative","title":null,"scale":{"domain":[-5,1087],"nice":false,"zero":false},"axis":{"values":[100,200,300,400,500,600,700,800,900,1000],"labels":false,"title":null}},"y":{"field":"greyLo","type":"quantitative","title":null,"scale":{"domain":[-0.04,1.04],"nice":false,"zero":false},"axis":{"values":[0,0.5,1],"labels":false,"title":null}},"y2":{"field":"greyHi"}}},
   {"data":{"name":"curves"},"transform":[{"filter":"datum.p=='E'"}],"mark":{"type":"area","fill":"#0000ff","fillOpacity":0.2,"interpolate":"monotone"},"encoding":{"x":{"field":"x","type":"quantitative","title":null},"y":{"field":"blueLo","type":"quantitative","title":null},"y2":{"field":"blueHi"}}},
   {"data":{"name":"curves"},"transform":[{"filter":"datum.p=='E'"},{"fold":["greyLo","greyHi","blueLo","blueHi"],"as":["k","v"]}],"mark":{"type":"line","strokeWidth":0.8,"interpolate":"monotone"},"encoding":{"x":{"field":"x","type":"quantitative","title":null},"y":{"field":"v","type":"quantitative","title":null},"color":{"field":"k","type":"nominal","legend":null}}},
   {"data":{"name":"curves"},"transform":[{"filter":"datum.p=='E'"},{"fold":["black","blue"],"as":["k","v"]}],"mark":{"type":"line","strokeWidth":1,"interpolate":"monotone"},"encoding":{"x":{"field":"x","type":"quantitative","title":null},"y":{"field":"v","type":"quantitative","title":null},"color":{"field":"k","type":"nominal","legend":null}}},
   {"data":{"name":"pts"},"transform":[{"filter":"datum.p=='E' && datum.s=='b'"}],"mark":{"type":"circle","fill":"#2020e6","size":14,"opacity":1},"encoding":{"x":{"field":"x","type":"quantitative","title":null},"y":{"field":"y","type":"quantitative","title":null}}},
   {"data":{"name":"pts"},"transform":[{"filter":"datum.p=='E' && datum.s=='k'"}],"mark":{"type":"point","shape":"circle","filled":false,"stroke":"#000000","strokeWidth":0.8,"size":40,"opacity":1},"encoding":{"x":{"field":"x","type":"quantitative","title":null},"y":{"field":"y","type":"quantitative","title":null}}},
   {"data":{"values":[{"name":"E. unicolor"}]},"mark":{"type":"text","align":"left","baseline":"alphabetic","fontStyle":"italic","fontSize":12.5,"color":"#000000"},"encoding":{"x":{"datum":66,"type":"quantitative","title":null},"y":{"datum":0.86,"type":"quantitative","title":null},"text":{"field":"name"}}}
  ]},
 {"title":"F","width":238,"height":134,
  "layer":[
   {"data":{"name":"curves"},"transform":[{"filter":"datum.p=='F'"}],"mark":{"type":"area","fill":"#000000","fillOpacity":0.09,"interpolate":"monotone"},"encoding":{"x":{"field":"x","type":"quantitative","title":null,"scale":{"domain":[-5,1087],"nice":false,"zero":false},"axis":{"values":[100,200,300,400,500,600,700,800,900,1000],"labels":false,"title":null}},"y":{"field":"greyLo","type":"quantitative","title":null,"scale":{"domain":[-0.04,1.04],"nice":false,"zero":false},"axis":{"values":[0,0.5,1],"labels":false,"title":null}},"y2":{"field":"greyHi"}}},
   {"data":{"name":"curves"},"transform":[{"filter":"datum.p=='F'"}],"mark":{"type":"area","fill":"#0000ff","fillOpacity":0.2,"interpolate":"monotone"},"encoding":{"x":{"field":"x","type":"quantitative","title":null},"y":{"field":"blueLo","type":"quantitative","title":null},"y2":{"field":"blueHi"}}},
   {"data":{"name":"curves"},"transform":[{"filter":"datum.p=='F'"},{"fold":["greyLo","greyHi","blueLo","blueHi"],"as":["k","v"]}],"mark":{"type":"line","strokeWidth":0.8,"interpolate":"monotone"},"encoding":{"x":{"field":"x","type":"quantitative","title":null},"y":{"field":"v","type":"quantitative","title":null},"color":{"field":"k","type":"nominal","legend":null}}},
   {"data":{"name":"curves"},"transform":[{"filter":"datum.p=='F'"},{"fold":["black","blue"],"as":["k","v"]}],"mark":{"type":"line","strokeWidth":1,"interpolate":"monotone"},"encoding":{"x":{"field":"x","type":"quantitative","title":null},"y":{"field":"v","type":"quantitative","title":null},"color":{"field":"k","type":"nominal","legend":null}}},
   {"data":{"name":"pts"},"transform":[{"filter":"datum.p=='F' && datum.s=='b'"}],"mark":{"type":"circle","fill":"#2020e6","size":14,"opacity":1},"encoding":{"x":{"field":"x","type":"quantitative","title":null},"y":{"field":"y","type":"quantitative","title":null}}},
   {"data":{"name":"pts"},"transform":[{"filter":"datum.p=='F' && datum.s=='k'"}],"mark":{"type":"point","shape":"circle","filled":false,"stroke":"#000000","strokeWidth":0.8,"size":40,"opacity":1},"encoding":{"x":{"field":"x","type":"quantitative","title":null},"y":{"field":"y","type":"quantitative","title":null}}},
   {"data":{"values":[{"name":"E. hedricki"}]},"mark":{"type":"text","align":"left","baseline":"alphabetic","fontStyle":"italic","fontSize":12.5,"color":"#000000"},"encoding":{"x":{"datum":66,"type":"quantitative","title":null},"y":{"datum":0.86,"type":"quantitative","title":null},"text":{"field":"name"}}}
  ]},
 {"title":"G","width":238,"height":134,
  "layer":[
   {"data":{"name":"curves"},"transform":[{"filter":"datum.p=='G'"}],"mark":{"type":"area","fill":"#000000","fillOpacity":0.09,"interpolate":"monotone"},"encoding":{"x":{"field":"x","type":"quantitative","title":null,"scale":{"domain":[-5,1087],"nice":false,"zero":false},"axis":{"values":[100,200,300,400,500,600,700,800,900,1000],"labels":false,"title":null}},"y":{"field":"greyLo","type":"quantitative","title":null,"scale":{"domain":[-0.04,1.04],"nice":false,"zero":false},"axis":{"values":[0,0.5,1],"format":".1f","title":null}},"y2":{"field":"greyHi"}}},
   {"data":{"name":"curves"},"transform":[{"filter":"datum.p=='G'"}],"mark":{"type":"area","fill":"#0000ff","fillOpacity":0.2,"interpolate":"monotone"},"encoding":{"x":{"field":"x","type":"quantitative","title":null},"y":{"field":"blueLo","type":"quantitative","title":null},"y2":{"field":"blueHi"}}},
   {"data":{"name":"curves"},"transform":[{"filter":"datum.p=='G'"},{"fold":["greyLo","greyHi","blueLo","blueHi"],"as":["k","v"]}],"mark":{"type":"line","strokeWidth":0.8,"interpolate":"monotone"},"encoding":{"x":{"field":"x","type":"quantitative","title":null},"y":{"field":"v","type":"quantitative","title":null},"color":{"field":"k","type":"nominal","legend":null}}},
   {"data":{"name":"curves"},"transform":[{"filter":"datum.p=='G'"},{"fold":["black","blue"],"as":["k","v"]}],"mark":{"type":"line","strokeWidth":1,"interpolate":"monotone"},"encoding":{"x":{"field":"x","type":"quantitative","title":null},"y":{"field":"v","type":"quantitative","title":null},"color":{"field":"k","type":"nominal","legend":null}}},
   {"data":{"name":"pts"},"transform":[{"filter":"datum.p=='G' && datum.s=='b'"}],"mark":{"type":"circle","fill":"#2020e6","size":14,"opacity":1},"encoding":{"x":{"field":"x","type":"quantitative","title":null},"y":{"field":"y","type":"quantitative","title":null}}},
   {"data":{"name":"pts"},"transform":[{"filter":"datum.p=='G' && datum.s=='k'"}],"mark":{"type":"point","shape":"circle","filled":false,"stroke":"#000000","strokeWidth":0.8,"size":40,"opacity":1},"encoding":{"x":{"field":"x","type":"quantitative","title":null},"y":{"field":"y","type":"quantitative","title":null}}},
   {"data":{"values":[{"name":"E. wightmanae"}]},"mark":{"type":"text","align":"left","baseline":"alphabetic","fontStyle":"italic","fontSize":12.5,"color":"#000000"},"encoding":{"x":{"datum":12,"type":"quantitative","title":null},"y":{"datum":0.87,"type":"quantitative","title":null},"text":{"field":"name"}}}
  ]},
 {"title":"H","width":238,"height":134,
  "layer":[
   {"data":{"name":"curves"},"transform":[{"filter":"datum.p=='H'"}],"mark":{"type":"area","fill":"#000000","fillOpacity":0.09,"interpolate":"monotone"},"encoding":{"x":{"field":"x","type":"quantitative","title":null,"scale":{"domain":[-5,1087],"nice":false,"zero":false},"axis":{"values":[100,200,300,400,500,600,700,800,900,1000],"labels":false,"title":null}},"y":{"field":"greyLo","type":"quantitative","title":null,"scale":{"domain":[-0.04,1.04],"nice":false,"zero":false},"axis":{"values":[0,0.5,1],"labels":false,"title":null}},"y2":{"field":"greyHi"}}},
   {"data":{"name":"curves"},"transform":[{"filter":"datum.p=='H'"}],"mark":{"type":"area","fill":"#0000ff","fillOpacity":0.2,"interpolate":"monotone"},"encoding":{"x":{"field":"x","type":"quantitative","title":null},"y":{"field":"blueLo","type":"quantitative","title":null},"y2":{"field":"blueHi"}}},
   {"data":{"name":"curves"},"transform":[{"filter":"datum.p=='H'"},{"fold":["greyLo","greyHi","blueLo","blueHi"],"as":["k","v"]}],"mark":{"type":"line","strokeWidth":0.8,"interpolate":"monotone"},"encoding":{"x":{"field":"x","type":"quantitative","title":null},"y":{"field":"v","type":"quantitative","title":null},"color":{"field":"k","type":"nominal","legend":null}}},
   {"data":{"name":"curves"},"transform":[{"filter":"datum.p=='H'"},{"fold":["black","blue"],"as":["k","v"]}],"mark":{"type":"line","strokeWidth":1,"interpolate":"monotone"},"encoding":{"x":{"field":"x","type":"quantitative","title":null},"y":{"field":"v","type":"quantitative","title":null},"color":{"field":"k","type":"nominal","legend":null}}},
   {"data":{"name":"pts"},"transform":[{"filter":"datum.p=='H' && datum.s=='b'"}],"mark":{"type":"circle","fill":"#2020e6","size":14,"opacity":1},"encoding":{"x":{"field":"x","type":"quantitative","title":null},"y":{"field":"y","type":"quantitative","title":null}}},
   {"data":{"name":"pts"},"transform":[{"filter":"datum.p=='H' && datum.s=='k'"}],"mark":{"type":"point","shape":"circle","filled":false,"stroke":"#000000","strokeWidth":0.8,"size":40,"opacity":1},"encoding":{"x":{"field":"x","type":"quantitative","title":null},"y":{"field":"y","type":"quantitative","title":null}}},
   {"data":{"values":[{"name":"E. brittoni"}]},"mark":{"type":"text","align":"left","baseline":"alphabetic","fontStyle":"italic","fontSize":12.5,"color":"#000000"},"encoding":{"x":{"datum":584,"type":"quantitative","title":null},"y":{"datum":0.86,"type":"quantitative","title":null},"text":{"field":"name"}}}
  ]},
 {"title":"I","width":238,"height":134,
  "layer":[
   {"data":{"name":"curves"},"transform":[{"filter":"datum.p=='I'"}],"mark":{"type":"area","fill":"#000000","fillOpacity":0.09,"interpolate":"monotone"},"encoding":{"x":{"field":"x","type":"quantitative","title":null,"scale":{"domain":[-5,1087],"nice":false,"zero":false},"axis":{"values":[100,200,300,400,500,600,700,800,900,1000],"format":"d","labelExpr":"datum.value % 200 == 100 ? datum.label : ''","title":null}},"y":{"field":"greyLo","type":"quantitative","title":null,"scale":{"domain":[-0.04,1.04],"nice":false,"zero":false},"axis":{"values":[0,0.5,1],"labels":false,"title":null}},"y2":{"field":"greyHi"}}},
   {"data":{"name":"curves"},"transform":[{"filter":"datum.p=='I'"}],"mark":{"type":"area","fill":"#0000ff","fillOpacity":0.2,"interpolate":"monotone"},"encoding":{"x":{"field":"x","type":"quantitative","title":null},"y":{"field":"blueLo","type":"quantitative","title":null},"y2":{"field":"blueHi"}}},
   {"data":{"name":"curves"},"transform":[{"filter":"datum.p=='I'"},{"fold":["greyLo","greyHi","blueLo","blueHi"],"as":["k","v"]}],"mark":{"type":"line","strokeWidth":0.8,"interpolate":"monotone"},"encoding":{"x":{"field":"x","type":"quantitative","title":null},"y":{"field":"v","type":"quantitative","title":null},"color":{"field":"k","type":"nominal","legend":null}}},
   {"data":{"name":"curves"},"transform":[{"filter":"datum.p=='I'"},{"fold":["black","blue"],"as":["k","v"]}],"mark":{"type":"line","strokeWidth":1,"interpolate":"monotone"},"encoding":{"x":{"field":"x","type":"quantitative","title":null},"y":{"field":"v","type":"quantitative","title":null},"color":{"field":"k","type":"nominal","legend":null}}},
   {"data":{"name":"pts"},"transform":[{"filter":"datum.p=='I' && datum.s=='b'"}],"mark":{"type":"circle","fill":"#2020e6","size":14,"opacity":1},"encoding":{"x":{"field":"x","type":"quantitative","title":null},"y":{"field":"y","type":"quantitative","title":null}}},
   {"data":{"name":"pts"},"transform":[{"filter":"datum.p=='I' && datum.s=='k'"}],"mark":{"type":"point","shape":"circle","filled":false,"stroke":"#000000","strokeWidth":0.8,"size":40,"opacity":1},"encoding":{"x":{"field":"x","type":"quantitative","title":null},"y":{"field":"y","type":"quantitative","title":null}}},
   {"data":{"values":[{"name":"E. antillensis"}]},"mark":{"type":"text","align":"left","baseline":"alphabetic","fontStyle":"italic","fontSize":12.5,"color":"#000000"},"encoding":{"x":{"datum":143,"type":"quantitative","title":null},"y":{"datum":0.87,"type":"quantitative","title":null},"text":{"field":"name"}}}
  ]},
 {"title":"J","width":238,"height":134,
  "layer":[
   {"data":{"name":"curves"},"transform":[{"filter":"datum.p=='J'"}],"mark":{"type":"area","fill":"#000000","fillOpacity":0.09,"interpolate":"monotone"},"encoding":{"x":{"field":"x","type":"quantitative","title":null,"scale":{"domain":[-5,1087],"nice":false,"zero":false},"axis":{"values":[100,200,300,400,500,600,700,800,900,1000],"format":"d","labelExpr":"datum.value % 200 == 100 ? datum.label : ''","title":null}},"y":{"field":"greyLo","type":"quantitative","title":null,"scale":{"domain":[-0.04,1.04],"nice":false,"zero":false},"axis":{"values":[0,0.5,1],"format":".1f","title":null}},"y2":{"field":"greyHi"}}},
   {"data":{"name":"curves"},"transform":[{"filter":"datum.p=='J'"}],"mark":{"type":"area","fill":"#0000ff","fillOpacity":0.2,"interpolate":"monotone"},"encoding":{"x":{"field":"x","type":"quantitative","title":null},"y":{"field":"blueLo","type":"quantitative","title":null},"y2":{"field":"blueHi"}}},
   {"data":{"name":"curves"},"transform":[{"filter":"datum.p=='J'"},{"fold":["greyLo","greyHi","blueLo","blueHi"],"as":["k","v"]}],"mark":{"type":"line","strokeWidth":0.8,"interpolate":"monotone"},"encoding":{"x":{"field":"x","type":"quantitative","title":null},"y":{"field":"v","type":"quantitative","title":null},"color":{"field":"k","type":"nominal","legend":null}}},
   {"data":{"name":"curves"},"transform":[{"filter":"datum.p=='J'"},{"fold":["black","blue"],"as":["k","v"]}],"mark":{"type":"line","strokeWidth":1,"interpolate":"monotone"},"encoding":{"x":{"field":"x","type":"quantitative","title":null},"y":{"field":"v","type":"quantitative","title":null},"color":{"field":"k","type":"nominal","legend":null}}},
   {"data":{"name":"pts"},"transform":[{"filter":"datum.p=='J' && datum.s=='b'"}],"mark":{"type":"circle","fill":"#2020e6","size":14,"opacity":1},"encoding":{"x":{"field":"x","type":"quantitative","title":null},"y":{"field":"y","type":"quantitative","title":null}}},
   {"data":{"name":"pts"},"transform":[{"filter":"datum.p=='J' && datum.s=='k'"}],"mark":{"type":"point","shape":"circle","filled":false,"stroke":"#000000","strokeWidth":0.8,"size":40,"opacity":1},"encoding":{"x":{"field":"x","type":"quantitative","title":null},"y":{"field":"y","type":"quantitative","title":null}}},
   {"data":{"values":[{"name":"E. cochranae"}]},"mark":{"type":"text","align":"left","baseline":"alphabetic","fontStyle":"italic","fontSize":12.5,"color":"#000000"},"encoding":{"x":{"datum":31,"type":"quantitative","title":null},"y":{"datum":0.865,"type":"quantitative","title":null},"text":{"field":"name"}}}
  ]},
 {"title":"K","width":238,"height":134,
  "layer":[
   {"data":{"name":"curves"},"transform":[{"filter":"datum.p=='K'"}],"mark":{"type":"area","fill":"#000000","fillOpacity":0.09,"interpolate":"monotone"},"encoding":{"x":{"field":"x","type":"quantitative","title":"Elevation (m)","scale":{"domain":[-5,1087],"nice":false,"zero":false},"axis":{"values":[100,200,300,400,500,600,700,800,900,1000],"format":"d","labelExpr":"datum.value % 200 == 100 ? datum.label : ''","title":"Elevation (m)","titleFontSize":15,"titlePadding":2}},"y":{"field":"greyLo","type":"quantitative","title":null,"scale":{"domain":[-0.04,1.04],"nice":false,"zero":false},"axis":{"values":[0,0.5,1],"labels":false,"title":null}},"y2":{"field":"greyHi"}}},
   {"data":{"name":"curves"},"transform":[{"filter":"datum.p=='K'"}],"mark":{"type":"area","fill":"#0000ff","fillOpacity":0.2,"interpolate":"monotone"},"encoding":{"x":{"field":"x","type":"quantitative","title":"Elevation (m)"},"y":{"field":"blueLo","type":"quantitative","title":null},"y2":{"field":"blueHi"}}},
   {"data":{"name":"curves"},"transform":[{"filter":"datum.p=='K'"},{"fold":["greyLo","greyHi","blueLo","blueHi"],"as":["k","v"]}],"mark":{"type":"line","strokeWidth":0.8,"interpolate":"monotone"},"encoding":{"x":{"field":"x","type":"quantitative","title":"Elevation (m)"},"y":{"field":"v","type":"quantitative","title":null},"color":{"field":"k","type":"nominal","legend":null}}},
   {"data":{"name":"curves"},"transform":[{"filter":"datum.p=='K'"},{"fold":["black","blue"],"as":["k","v"]}],"mark":{"type":"line","strokeWidth":1,"interpolate":"monotone"},"encoding":{"x":{"field":"x","type":"quantitative","title":"Elevation (m)"},"y":{"field":"v","type":"quantitative","title":null},"color":{"field":"k","type":"nominal","legend":null}}},
   {"data":{"name":"pts"},"transform":[{"filter":"datum.p=='K' && datum.s=='b'"}],"mark":{"type":"circle","fill":"#2020e6","size":14,"opacity":1},"encoding":{"x":{"field":"x","type":"quantitative","title":"Elevation (m)"},"y":{"field":"y","type":"quantitative","title":null}}},
   {"data":{"name":"pts"},"transform":[{"filter":"datum.p=='K' && datum.s=='k'"}],"mark":{"type":"point","shape":"circle","filled":false,"stroke":"#000000","strokeWidth":0.8,"size":40,"opacity":1},"encoding":{"x":{"field":"x","type":"quantitative","title":"Elevation (m)"},"y":{"field":"y","type":"quantitative","title":null}}},
   {"data":{"values":[{"name":"L. albilabris"}]},"mark":{"type":"text","align":"left","baseline":"alphabetic","fontStyle":"italic","fontSize":12.5,"color":"#000000"},"encoding":{"x":{"datum":54,"type":"quantitative","title":"Elevation (m)"},"y":{"datum":0.865,"type":"quantitative","title":null},"text":{"field":"name"}}}
  ]}
],
"resolve": {"scale": {"color": "shared"}}
}
